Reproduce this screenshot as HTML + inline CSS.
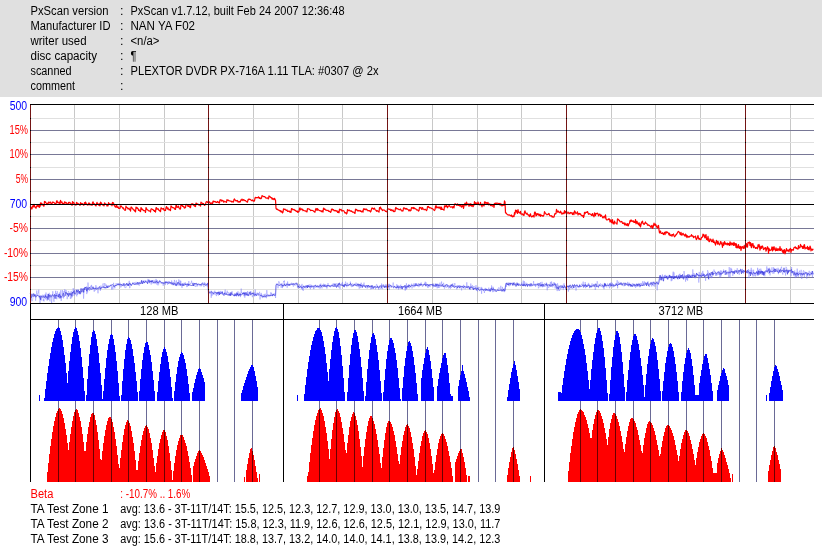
<!DOCTYPE html><html><head><meta charset="utf-8"><title>PxScan</title>
<style>html,body{margin:0;padding:0;background:#fff}svg{display:block}text{font-family:"Liberation Sans","IPAGothic",sans-serif;font-size:12.5px}</style></head><body>
<svg width="822" height="551" viewBox="0 0 822 551">
<rect x="0" y="0" width="822" height="551" fill="#fff"/>
<rect x="0" y="0" width="822" height="97" fill="#e0e0e0"/>
<g shape-rendering="crispEdges">
<rect x="74" y="104" width="1" height="200" fill="#c8c8c8"/>
<rect x="119" y="104" width="1" height="200" fill="#c8c8c8"/>
<rect x="164" y="104" width="1" height="200" fill="#c8c8c8"/>
<rect x="253" y="104" width="1" height="200" fill="#c8c8c8"/>
<rect x="298" y="104" width="1" height="200" fill="#c8c8c8"/>
<rect x="342" y="104" width="1" height="200" fill="#c8c8c8"/>
<rect x="432" y="104" width="1" height="200" fill="#c8c8c8"/>
<rect x="477" y="104" width="1" height="200" fill="#c8c8c8"/>
<rect x="521" y="104" width="1" height="200" fill="#c8c8c8"/>
<rect x="611" y="104" width="1" height="200" fill="#c8c8c8"/>
<rect x="655" y="104" width="1" height="200" fill="#c8c8c8"/>
<rect x="700" y="104" width="1" height="200" fill="#c8c8c8"/>
<rect x="790" y="104" width="1" height="200" fill="#c8c8c8"/>
<rect x="30" y="118" width="784" height="1" fill="#e0e0e0"/>
<rect x="30" y="142" width="784" height="1" fill="#e0e0e0"/>
<rect x="30" y="167" width="784" height="1" fill="#e0e0e0"/>
<rect x="30" y="191" width="784" height="1" fill="#e0e0e0"/>
<rect x="30" y="216" width="784" height="1" fill="#e0e0e0"/>
<rect x="30" y="240" width="784" height="1" fill="#e0e0e0"/>
<rect x="30" y="265" width="784" height="1" fill="#e0e0e0"/>
<rect x="30" y="289" width="784" height="1" fill="#e0e0e0"/>
<rect x="30" y="130" width="784" height="1" fill="#787896"/>
<rect x="30" y="154" width="784" height="1" fill="#787896"/>
<rect x="30" y="179" width="784" height="1" fill="#787896"/>
<rect x="30" y="228" width="784" height="1" fill="#787896"/>
<rect x="30" y="253" width="784" height="1" fill="#787896"/>
<rect x="30" y="277" width="784" height="1" fill="#787896"/>
<rect x="30" y="319" width="784" height="1" fill="#000"/>
<rect x="30" y="303" width="1" height="179" fill="#000"/>
<rect x="283" y="303" width="1" height="179" fill="#000"/>
<rect x="544" y="303" width="1" height="179" fill="#000"/>
</g>
<polyline points="30.0,207.4 30.5,207.0 31.0,207.1 31.5,208.9 32.0,209.0 32.5,206.0 33.0,205.8 33.5,206.9 34.0,204.3 34.5,206.1 35.0,207.3 35.5,207.3 36.0,208.3 36.5,206.2 37.0,206.7 37.5,204.9 38.0,205.8 38.5,206.8 39.0,205.4 39.5,207.3 40.0,206.5 40.5,202.9 41.0,205.1 41.5,203.0 42.0,203.7 42.5,204.8 43.0,204.7 43.5,206.0 44.0,206.1 44.5,201.4 45.0,202.5 45.5,201.8 46.0,202.9 46.5,203.4 47.0,204.6 47.5,203.3 48.0,203.9 48.5,202.1 49.0,203.0 49.5,202.9 50.0,202.0 50.5,202.0 51.0,203.7 51.5,203.5 52.0,203.6 52.5,202.0 53.0,202.4 53.5,202.2 54.0,202.6 54.5,203.0 55.0,203.9 55.5,203.7 56.0,204.0 56.5,201.3 57.0,200.7 57.5,202.5 58.0,202.8 58.5,202.9 59.0,202.1 59.5,203.2 60.0,204.3 60.5,200.4 61.0,201.6 61.5,202.6 62.0,201.9 62.5,203.8 63.0,203.6 63.5,203.7 64.0,204.3 64.5,201.9 65.0,202.0 65.5,203.0 66.0,202.5 66.5,203.0 67.0,204.1 67.5,204.0 68.0,204.0 68.5,202.3 69.0,203.0 69.5,202.4 70.0,202.4 70.5,203.4 71.0,203.8 71.5,204.1 72.0,205.4 72.5,201.6 73.0,203.1 73.5,202.3 74.0,202.9 74.5,204.1 75.0,204.7 75.5,205.0 76.0,205.1 76.5,202.4 77.0,202.8 77.5,203.4 78.0,203.4 78.5,204.0 79.0,204.5 79.5,204.6 80.0,205.4 80.5,202.7 81.0,203.8 81.5,203.4 82.0,203.4 82.5,203.8 83.0,204.4 83.5,205.2 84.0,205.0 84.5,202.7 85.0,203.8 85.5,202.0 86.0,203.1 86.5,204.2 87.0,204.7 87.5,205.0 88.0,205.1 88.5,203.0 89.0,203.2 89.5,203.2 90.0,205.0 90.5,204.4 91.0,204.3 91.5,204.9 92.0,205.3 92.5,202.7 93.0,201.8 93.5,203.3 94.0,204.4 94.5,203.8 95.0,204.7 95.5,205.6 96.0,205.9 96.5,203.6 97.0,202.4 97.5,203.4 98.0,203.8 98.5,204.7 99.0,205.3 99.5,203.8 100.0,206.0 100.5,202.1 101.0,203.6 101.5,202.9 102.0,204.1 102.5,204.9 103.0,204.7 103.5,205.2 104.0,205.9 104.5,202.9 105.0,203.2 105.5,204.4 106.0,204.5 106.5,204.2 107.0,206.1 107.5,204.5 108.0,205.9 108.5,202.7 109.0,203.3 109.5,204.0 110.0,204.1 110.5,204.7 111.0,204.0 111.5,204.3 112.0,205.8 112.5,202.4 113.0,202.7 113.5,202.9 114.0,205.1 114.5,205.6 115.0,206.7 115.5,206.3 116.0,207.5 116.5,204.7 117.0,206.4 117.5,207.5 118.0,206.7 118.5,208.3 119.0,208.5 119.5,208.3 120.0,208.3 120.5,206.1 121.0,205.9 121.5,206.2 122.0,207.1 122.5,207.6 123.0,208.5 123.5,207.9 124.0,209.3 124.5,209.9 125.0,210.4 125.5,210.1 126.0,206.1 126.5,207.4 127.0,207.5 127.5,207.9 128.0,209.0 128.5,208.7 129.0,208.2 129.5,209.6 130.0,209.4 130.5,211.1 131.0,207.1 131.5,207.1 132.0,207.9 132.5,208.7 133.0,208.9 133.5,209.9 134.0,209.7 134.5,210.7 135.0,211.4 135.5,211.9 136.0,207.1 136.5,208.3 137.0,207.5 137.5,208.4 138.0,208.4 138.5,210.3 139.0,209.7 139.5,210.7 140.0,211.0 140.5,211.6 141.0,207.6 141.5,208.4 142.0,209.6 142.5,209.2 143.0,209.9 143.5,210.6 144.0,210.5 144.5,210.5 145.0,211.2 145.5,212.4 146.0,207.5 146.5,208.4 147.0,209.6 147.5,209.9 148.0,210.0 148.5,210.8 149.0,211.0 149.5,210.9 150.0,211.1 150.5,212.0 151.0,209.0 151.5,208.8 152.0,209.1 152.5,209.5 153.0,209.5 153.5,210.5 154.0,210.4 154.5,211.4 155.0,210.5 155.5,212.1 156.0,207.8 156.5,207.6 157.0,209.2 157.5,209.1 158.0,208.6 158.5,209.5 159.0,210.4 159.5,210.4 160.0,211.3 160.5,211.7 161.0,207.8 161.5,208.0 162.0,208.8 162.5,208.9 163.0,209.1 163.5,208.4 164.0,210.1 164.5,210.6 165.0,210.2 165.5,210.5 166.0,207.8 166.5,206.5 167.0,207.8 167.5,209.1 168.0,207.9 168.5,209.0 169.0,209.9 169.5,209.3 170.0,210.0 170.5,210.5 171.0,205.8 171.5,206.5 172.0,207.1 172.5,207.7 173.0,207.6 173.5,207.9 174.0,207.9 174.5,208.5 175.0,209.4 175.5,209.4 176.0,205.1 176.5,205.5 177.0,207.4 177.5,207.1 178.0,207.2 178.5,206.1 179.0,207.9 179.5,208.2 180.0,209.1 180.5,208.9 181.0,204.8 181.5,205.4 182.0,204.7 182.5,206.3 183.0,206.4 183.5,206.3 184.0,207.5 184.5,208.1 185.0,207.0 185.5,207.7 186.0,204.3 186.5,204.6 187.0,204.7 187.5,204.7 188.0,206.5 188.5,206.4 189.0,205.7 189.5,206.0 190.0,207.7 190.5,207.7 191.0,204.3 191.5,204.2 192.0,203.7 192.5,204.6 193.0,203.9 193.5,204.9 194.0,205.5 194.5,206.1 195.0,205.9 195.5,206.6 196.0,203.0 196.5,203.3 197.0,203.8 197.5,204.0 198.0,204.1 198.5,205.0 199.0,205.0 199.5,205.0 200.0,205.4 200.5,206.1 201.0,202.2 201.5,202.7 202.0,203.0 202.5,203.5 203.0,203.7 203.5,203.5 204.0,204.7 204.5,205.3 205.0,204.8 205.5,204.7 206.0,202.2 206.5,201.7 207.0,201.4 207.5,202.5 208.0,202.2 208.5,203.1 209.0,202.4 209.5,201.8 210.0,202.7 210.5,204.0 211.0,203.2 211.5,202.9 212.0,203.3 212.5,204.0 213.0,201.1 213.5,201.1 214.0,201.8 214.5,201.6 215.0,201.4 215.5,201.8 216.0,202.4 216.5,202.2 217.0,202.3 217.5,201.5 218.0,202.0 218.5,202.6 219.0,202.2 219.5,203.0 220.0,199.9 220.5,200.1 221.0,199.7 221.5,201.1 222.0,200.8 222.5,200.3 223.0,200.7 223.5,202.1 224.0,201.0 224.5,201.8 225.0,202.0 225.5,201.8 226.0,201.5 226.5,202.4 227.0,199.7 227.5,200.2 228.0,200.3 228.5,200.2 229.0,200.8 229.5,200.9 230.0,201.0 230.5,201.1 231.0,201.2 231.5,201.9 232.0,201.3 232.5,201.7 233.0,202.2 233.5,201.8 234.0,199.5 234.5,199.0 235.0,199.8 235.5,200.6 236.0,200.8 236.5,200.7 237.0,200.8 237.5,200.5 238.0,202.1 238.5,201.7 239.0,202.2 239.5,201.5 240.0,202.0 240.5,201.4 241.0,199.8 241.5,200.1 242.0,199.0 242.5,200.0 243.0,200.5 243.5,199.6 244.0,199.8 244.5,200.3 245.0,200.7 245.5,200.5 246.0,201.3 246.5,201.6 247.0,202.0 247.5,202.2 248.0,199.7 248.5,199.8 249.0,198.9 249.5,199.4 250.0,199.3 250.5,199.5 251.0,200.2 251.5,200.4 252.0,200.8 252.5,200.0 253.0,200.4 253.5,201.1 254.0,201.2 254.5,201.0 255.0,197.9 255.5,197.3 256.0,197.8 256.5,197.7 257.0,197.7 257.5,197.5 258.0,197.9 258.5,196.8 259.0,197.7 259.5,198.3 260.0,197.7 260.5,198.6 261.0,198.7 261.5,198.1 262.0,195.7 262.5,195.8 263.0,196.3 263.5,196.6 264.0,196.6 264.5,196.5 265.0,197.1 265.5,197.4 266.0,198.1 266.5,198.1 267.0,198.0 267.5,197.9 268.0,198.7 268.5,198.8 269.0,195.9 269.5,196.6 270.0,196.7 270.5,197.3 271.0,197.7 271.5,197.6 272.0,199.1 272.5,198.2 273.0,199.1 273.5,198.9 274.0,199.7 274.5,198.3 275.0,199.3 275.5,199.9 276.0,208.2 276.5,209.3 277.0,208.8 277.5,209.6 278.0,209.7 278.5,210.2 279.0,210.3 279.5,210.4 280.0,211.1 280.5,210.7 281.0,211.9 281.5,211.2 282.0,211.9 282.5,213.0 283.0,212.2 283.5,208.9 284.0,209.6 284.5,209.3 285.0,209.1 285.5,209.8 286.0,210.2 286.5,210.5 287.0,210.0 287.5,211.4 288.0,211.5 288.5,211.0 289.0,211.3 289.5,211.2 290.0,212.3 290.5,211.5 291.0,212.4 291.5,208.5 292.0,208.6 292.5,209.4 293.0,209.9 293.5,209.5 294.0,209.4 294.5,210.3 295.0,210.1 295.5,210.5 296.0,211.3 296.5,211.3 297.0,210.8 297.5,212.3 298.0,211.5 298.5,212.1 299.0,211.6 299.5,208.5 300.0,208.0 300.5,209.8 301.0,209.8 301.5,208.9 302.0,209.0 302.5,209.2 303.0,210.7 303.5,210.1 304.0,210.5 304.5,210.7 305.0,211.0 305.5,210.8 306.0,211.5 306.5,211.1 307.0,211.9 307.5,208.7 308.0,209.0 308.5,208.9 309.0,208.8 309.5,209.5 310.0,209.5 310.5,210.6 311.0,210.5 311.5,210.3 312.0,210.4 312.5,210.5 313.0,210.6 313.5,211.1 314.0,211.6 314.5,211.9 315.0,212.2 315.5,209.5 316.0,208.5 316.5,209.0 317.0,210.5 317.5,208.6 318.0,209.5 318.5,210.0 319.0,210.2 319.5,210.6 320.0,210.5 320.5,211.0 321.0,211.1 321.5,211.7 322.0,210.7 322.5,211.4 323.0,212.0 323.5,208.2 324.0,208.4 324.5,209.4 325.0,209.1 325.5,209.9 326.0,210.2 326.5,210.2 327.0,210.6 327.5,210.5 328.0,210.2 328.5,211.0 329.0,211.5 329.5,211.3 330.0,211.7 330.5,212.3 331.0,211.8 331.5,209.1 332.0,209.9 332.5,209.1 333.0,209.6 333.5,209.7 334.0,210.7 334.5,210.4 335.0,210.9 335.5,210.4 336.0,210.9 336.5,211.2 337.0,210.6 337.5,212.3 338.0,212.4 338.5,211.4 339.0,212.8 339.5,209.1 340.0,209.6 340.5,209.9 341.0,209.3 341.5,210.2 342.0,211.2 342.5,210.6 343.0,210.6 343.5,210.8 344.0,211.1 344.5,212.1 345.0,213.0 345.5,212.7 346.0,212.8 346.5,214.0 347.0,213.1 347.5,209.6 348.0,210.4 348.5,210.6 349.0,210.1 349.5,210.2 350.0,211.0 350.5,211.2 351.0,210.7 351.5,211.4 352.0,211.4 352.5,212.1 353.0,212.0 353.5,212.2 354.0,212.3 354.5,213.1 355.0,213.4 355.5,209.2 356.0,210.0 356.5,209.4 357.0,210.0 357.5,210.5 358.0,211.0 358.5,210.4 359.0,210.7 359.5,211.0 360.0,210.4 360.5,211.3 361.0,211.2 361.5,211.8 362.0,211.3 362.5,211.1 363.0,212.2 363.5,208.9 364.0,208.7 364.5,209.5 365.0,209.2 365.5,209.2 366.0,209.9 366.5,209.1 367.0,209.7 367.5,210.2 368.0,210.8 368.5,210.5 369.0,210.9 369.5,210.6 370.0,211.2 370.5,212.0 371.0,211.1 371.5,209.1 372.0,207.9 372.5,208.4 373.0,208.6 373.5,209.2 374.0,208.3 374.5,208.2 375.0,209.6 375.5,210.0 376.0,210.2 376.5,211.3 377.0,210.5 377.5,210.8 378.0,211.3 378.5,211.3 379.0,212.2 379.5,207.5 380.0,208.2 380.5,207.0 381.0,209.2 381.5,208.9 382.0,209.8 382.5,210.6 383.0,209.9 383.5,210.0 384.0,210.1 384.5,210.2 385.0,210.6 385.5,211.4 386.0,211.4 386.5,211.7 387.0,211.8 387.5,209.0 388.0,209.0 388.5,208.9 389.0,209.4 389.5,209.2 390.0,209.0 390.5,210.4 391.0,210.1 391.5,209.7 392.0,210.8 392.5,210.6 393.0,210.0 393.5,211.6 394.0,211.2 394.5,211.6 395.0,211.5 395.5,208.0 396.0,207.5 396.5,208.8 397.0,208.6 397.5,208.7 398.0,209.1 398.5,209.2 399.0,209.7 399.5,209.4 400.0,209.7 400.5,209.0 401.0,209.9 401.5,210.6 402.0,211.1 402.5,210.6 403.0,210.9 403.5,208.2 404.0,207.6 404.5,208.3 405.0,208.9 405.5,208.4 406.0,209.2 406.5,208.5 407.0,209.1 407.5,209.2 408.0,209.5 408.5,210.2 409.0,211.0 409.5,209.8 410.0,210.1 410.5,210.8 411.0,210.3 411.5,207.6 412.0,207.9 412.5,207.7 413.0,208.3 413.5,207.5 414.0,208.8 414.5,208.0 415.0,208.6 415.5,208.8 416.0,209.1 416.5,209.9 417.0,209.8 417.5,209.8 418.0,210.4 418.5,211.1 419.0,210.6 419.5,207.4 420.0,208.0 420.5,207.8 421.0,207.3 421.5,209.2 422.0,209.3 422.5,207.6 423.0,208.7 423.5,209.1 424.0,209.6 424.5,209.6 425.0,209.4 425.5,209.3 426.0,210.0 426.5,210.6 427.0,209.8 427.5,206.5 428.0,207.1 428.5,206.5 429.0,207.4 429.5,207.5 430.0,208.1 430.5,207.8 431.0,207.9 431.5,208.4 432.0,208.7 432.5,208.6 433.0,209.1 433.5,209.7 434.0,210.1 434.5,210.5 435.0,209.6 435.5,206.3 436.0,205.6 436.5,207.8 437.0,206.8 437.5,207.3 438.0,207.8 438.5,207.1 439.0,208.1 439.5,208.1 440.0,206.8 440.5,208.6 441.0,209.5 441.5,207.2 442.0,209.5 442.5,209.1 443.0,209.5 443.5,209.5 444.0,210.3 444.5,205.9 445.0,206.8 445.5,205.8 446.0,206.7 446.5,205.5 447.0,206.1 447.5,207.7 448.0,206.7 448.5,206.2 449.0,205.5 449.5,205.8 450.0,206.6 450.5,207.2 451.0,206.9 451.5,207.0 452.0,206.7 452.5,207.9 453.0,206.7 453.5,206.7 454.0,207.9 454.5,204.2 455.0,204.1 455.5,203.9 456.0,204.3 456.5,205.2 457.0,205.1 457.5,203.9 458.0,205.4 458.5,205.3 459.0,204.5 459.5,206.0 460.0,205.3 460.5,205.4 461.0,206.5 461.5,207.0 462.0,205.5 462.5,206.5 463.0,205.6 463.5,208.3 464.0,206.2 464.5,204.5 465.0,203.1 465.5,204.4 466.0,205.7 466.5,202.0 467.0,203.8 467.5,204.7 468.0,204.3 468.5,204.0 469.0,206.4 469.5,204.9 470.0,203.6 470.5,205.7 471.0,203.8 471.5,206.2 472.0,205.0 472.5,205.7 473.0,206.7 473.5,205.9 474.0,204.8 474.5,201.5 475.0,203.9 475.5,203.7 476.0,202.6 476.5,204.1 477.0,203.9 477.5,204.2 478.0,202.0 478.5,203.6 479.0,204.7 479.5,204.7 480.0,205.0 480.5,202.4 481.0,204.7 481.5,205.0 482.0,206.8 482.5,204.1 483.0,204.8 483.5,205.2 484.0,206.0 484.5,201.9 485.0,203.4 485.5,202.1 486.0,203.1 486.5,202.7 487.0,203.5 487.5,203.0 488.0,202.5 488.5,204.8 489.0,204.4 489.5,203.9 490.0,204.8 490.5,205.6 491.0,204.2 491.5,205.1 492.0,205.9 492.5,206.1 493.0,205.6 493.5,204.4 494.0,207.3 494.5,203.5 495.0,203.3 495.5,203.2 496.0,203.8 496.5,203.3 497.0,202.9 497.5,203.3 498.0,203.5 498.5,203.6 499.0,203.3 499.5,204.8 500.0,203.4 500.5,205.1 501.0,203.8 501.5,205.0 502.0,206.0 502.5,205.1 503.0,204.5 503.5,205.2 504.0,205.4 504.5,200.9 505.0,201.9 505.5,212.9 506.0,212.7 506.5,213.5 507.0,214.3 507.5,214.6 508.0,215.0 508.5,215.1 509.0,214.7 509.5,215.2 510.0,215.3 510.5,215.6 511.0,216.0 511.5,215.0 512.0,216.5 512.5,216.9 513.0,215.9 513.5,216.4 514.0,216.6 514.5,212.7 515.0,214.2 515.5,210.2 516.0,211.9 516.5,210.4 517.0,212.4 517.5,213.5 518.0,209.7 518.5,212.1 519.0,212.7 519.5,212.3 520.0,213.3 520.5,211.4 521.0,214.1 521.5,214.1 522.0,214.1 522.5,213.9 523.0,215.1 523.5,214.5 524.0,215.4 524.5,211.9 525.0,210.8 525.5,212.9 526.0,213.4 526.5,214.1 527.0,213.1 527.5,214.1 528.0,214.9 528.5,214.8 529.0,215.9 529.5,216.6 530.0,214.5 530.5,213.8 531.0,216.2 531.5,216.9 532.0,216.5 532.5,216.6 533.0,215.6 533.5,215.7 534.0,217.1 534.5,212.6 535.0,212.0 535.5,212.8 536.0,215.8 536.5,215.5 537.0,213.5 537.5,213.7 538.0,214.6 538.5,213.9 539.0,215.7 539.5,214.8 540.0,214.2 540.5,216.3 541.0,214.9 541.5,215.7 542.0,215.7 542.5,215.7 543.0,216.4 543.5,215.7 544.0,215.0 544.5,211.7 545.0,212.6 545.5,213.2 546.0,214.0 546.5,214.2 547.0,214.8 547.5,214.6 548.0,214.1 548.5,214.3 549.0,213.4 549.5,215.1 550.0,215.8 550.5,216.0 551.0,215.7 551.5,215.8 552.0,216.9 552.5,216.3 553.0,217.1 553.5,217.1 554.0,217.0 554.5,214.9 555.0,213.5 555.5,213.9 556.0,213.7 556.5,209.3 557.0,211.5 557.5,212.0 558.0,210.9 558.5,211.6 559.0,212.3 559.5,212.3 560.0,212.9 560.5,211.2 561.0,212.0 561.5,213.2 562.0,214.3 562.5,213.5 563.0,213.0 563.5,213.7 564.0,213.7 564.5,210.6 565.0,212.8 565.5,211.4 566.0,212.2 566.5,214.2 567.0,213.5 567.5,212.8 568.0,212.0 568.5,212.8 569.0,213.8 569.5,213.0 570.0,213.5 570.5,212.5 571.0,213.0 571.5,212.7 572.0,213.5 572.5,214.5 573.0,212.6 573.5,213.9 574.0,214.5 574.5,210.9 575.0,211.4 575.5,212.5 576.0,213.8 576.5,213.0 577.0,213.0 577.5,211.8 578.0,214.9 578.5,213.7 579.0,213.8 579.5,213.3 580.0,214.4 580.5,213.8 581.0,215.0 581.5,215.6 582.0,215.6 582.5,216.1 583.0,215.4 583.5,217.5 584.0,216.1 584.5,212.3 585.0,213.7 585.5,212.8 586.0,212.2 586.5,212.3 587.0,212.5 587.5,211.6 588.0,212.7 588.5,214.3 589.0,214.0 589.5,213.6 590.0,214.1 590.5,214.2 591.0,214.5 591.5,215.4 592.0,215.0 592.5,213.5 593.0,215.7 593.5,215.3 594.0,216.8 594.5,212.9 595.0,213.7 595.5,215.7 596.0,213.4 596.5,213.6 597.0,213.6 597.5,213.1 598.0,213.8 598.5,215.8 599.0,215.0 599.5,214.2 600.0,214.2 600.5,216.4 601.0,215.0 601.5,215.5 602.0,216.2 602.5,217.3 603.0,218.0 603.5,217.1 604.0,216.3 604.5,216.4 605.0,218.0 605.5,214.8 606.0,218.9 606.5,219.8 607.0,219.8 607.5,219.8 608.0,219.4 608.5,218.8 609.0,219.7 609.5,218.9 610.0,221.9 610.5,221.3 611.0,219.8 611.5,222.6 612.0,222.2 612.5,219.6 613.0,223.6 613.5,222.7 614.0,224.1 614.5,221.0 615.0,223.0 615.5,223.0 616.0,223.0 616.5,223.2 617.0,224.2 617.5,218.8 618.0,219.3 618.5,219.3 619.0,220.4 619.5,220.6 620.0,221.7 620.5,221.9 621.0,221.9 621.5,221.4 622.0,221.8 622.5,223.4 623.0,223.5 623.5,223.0 624.0,222.8 624.5,224.9 625.0,223.0 625.5,224.5 626.0,225.2 626.5,224.0 627.0,225.3 627.5,223.6 628.0,226.0 628.5,225.4 629.0,223.7 629.5,223.1 630.0,220.5 630.5,221.6 631.0,219.9 631.5,220.6 632.0,221.3 632.5,220.8 633.0,221.6 633.5,221.0 634.0,222.5 634.5,222.0 635.0,222.4 635.5,219.6 636.0,223.8 636.5,222.8 637.0,221.2 637.5,223.3 638.0,223.9 638.5,224.7 639.0,222.7 639.5,225.6 640.0,224.1 640.5,226.8 641.0,224.5 641.5,222.5 642.0,221.7 642.5,221.1 643.0,223.6 643.5,223.6 644.0,224.5 644.5,224.0 645.0,222.9 645.5,222.0 646.0,223.3 646.5,223.5 647.0,223.6 647.5,225.2 648.0,225.2 648.5,224.8 649.0,225.5 649.5,225.4 650.0,226.0 650.5,226.8 651.0,227.3 651.5,225.9 652.0,225.3 652.5,228.5 653.0,227.4 653.5,225.6 654.0,223.1 654.5,224.7 655.0,225.3 655.5,224.0 656.0,225.2 656.5,226.7 657.0,227.3 657.5,228.0 658.0,225.8 658.5,225.4 659.0,229.8 659.5,232.8 660.0,232.3 660.5,231.0 661.0,233.3 661.5,233.5 662.0,233.5 662.5,232.7 663.0,233.8 663.5,234.5 664.0,233.4 664.5,232.3 665.0,234.7 665.5,232.1 666.0,231.9 666.5,233.0 667.0,231.7 667.5,232.5 668.0,232.5 668.5,233.6 669.0,234.8 669.5,233.2 670.0,235.7 670.5,235.5 671.0,234.9 671.5,234.9 672.0,236.3 672.5,234.5 673.0,234.8 673.5,234.0 674.0,235.7 674.5,236.8 675.0,236.1 675.5,235.8 676.0,234.5 676.5,234.6 677.0,233.3 677.5,233.0 678.0,231.8 678.5,231.4 679.0,232.0 679.5,232.2 680.0,234.1 680.5,234.6 681.0,232.4 681.5,234.9 682.0,235.2 682.5,233.9 683.0,233.3 683.5,234.3 684.0,234.7 684.5,235.9 685.0,235.4 685.5,234.0 686.0,236.6 686.5,235.0 687.0,237.7 687.5,235.9 688.0,236.7 688.5,236.7 689.0,237.3 689.5,236.4 690.0,236.2 690.5,236.2 691.0,236.2 691.5,234.6 692.0,235.9 692.5,236.1 693.0,235.9 693.5,237.7 694.0,236.7 694.5,237.0 695.0,236.9 695.5,236.1 696.0,238.9 696.5,239.6 697.0,238.4 697.5,237.2 698.0,235.5 698.5,238.3 699.0,239.3 699.5,238.4 700.0,239.1 700.5,239.8 701.0,239.4 701.5,237.4 702.0,237.3 702.5,237.1 703.0,234.1 703.5,235.9 704.0,234.7 704.5,236.7 705.0,237.9 705.5,235.8 706.0,234.6 706.5,239.5 707.0,238.4 707.5,240.1 708.0,236.4 708.5,239.9 709.0,241.6 709.5,241.7 710.0,238.8 710.5,239.8 711.0,239.5 711.5,241.5 712.0,241.9 712.5,240.9 713.0,239.2 713.5,242.5 714.0,241.1 714.5,243.0 715.0,242.8 715.5,245.1 716.0,242.3 716.5,240.4 717.0,241.9 717.5,244.2 718.0,241.3 718.5,243.0 719.0,244.4 719.5,244.9 720.0,244.2 720.5,241.6 721.0,241.8 721.5,243.9 722.0,244.2 722.5,247.3 723.0,242.5 723.5,245.4 724.0,244.9 724.5,241.6 725.0,242.8 725.5,244.2 726.0,243.3 726.5,243.9 727.0,244.8 727.5,243.1 728.0,244.9 728.5,243.5 729.0,243.8 729.5,245.5 730.0,241.8 730.5,243.2 731.0,245.2 731.5,243.2 732.0,243.1 732.5,244.6 733.0,243.2 733.5,245.5 734.0,242.3 734.5,245.2 735.0,243.8 735.5,243.6 736.0,247.4 736.5,243.9 737.0,247.8 737.5,246.4 738.0,247.7 738.5,244.5 739.0,247.8 739.5,248.3 740.0,246.3 740.5,246.5 741.0,250.3 741.5,247.3 742.0,246.7 742.5,246.6 743.0,248.3 743.5,248.3 744.0,245.9 744.5,248.2 745.0,245.1 745.5,246.0 746.0,247.2 746.5,243.6 747.0,246.2 747.5,247.1 748.0,242.4 748.5,242.6 749.0,242.9 749.5,242.0 750.0,245.5 750.5,242.5 751.0,246.1 751.5,247.7 752.0,243.6 752.5,245.7 753.0,243.7 753.5,247.7 754.0,245.8 754.5,246.8 755.0,247.5 755.5,248.4 756.0,247.4 756.5,248.1 757.0,247.6 757.5,248.8 758.0,244.8 758.5,246.8 759.0,244.3 759.5,246.5 760.0,250.2 760.5,247.8 761.0,246.1 761.5,248.4 762.0,246.8 762.5,246.0 763.0,247.4 763.5,249.6 764.0,249.2 764.5,248.7 765.0,247.7 765.5,247.6 766.0,251.1 766.5,249.7 767.0,248.2 767.5,246.7 768.0,247.8 768.5,253.3 769.0,248.4 769.5,250.0 770.0,250.6 770.5,250.2 771.0,250.1 771.5,248.7 772.0,246.9 772.5,250.9 773.0,247.6 773.5,250.0 774.0,246.6 774.5,248.7 775.0,249.6 775.5,250.8 776.0,247.9 776.5,250.4 777.0,250.3 777.5,248.8 778.0,250.6 778.5,248.8 779.0,249.1 779.5,250.3 780.0,246.6 780.5,250.4 781.0,249.3 781.5,248.8 782.0,250.3 782.5,252.1 783.0,250.6 783.5,253.1 784.0,249.8 784.5,249.7 785.0,253.8 785.5,252.3 786.0,250.8 786.5,248.5 787.0,250.9 787.5,250.2 788.0,250.9 788.5,250.1 789.0,251.9 789.5,249.4 790.0,249.1 790.5,248.5 791.0,252.3 791.5,249.8 792.0,249.4 792.5,249.7 793.0,250.4 793.5,249.4 794.0,247.7 794.5,247.3 795.0,247.5 795.5,247.0 796.0,248.5 796.5,247.8 797.0,248.7 797.5,249.0 798.0,249.1 798.5,245.7 799.0,248.1 799.5,247.8 800.0,247.6 800.5,244.4 801.0,245.7 801.5,246.3 802.0,246.4 802.5,248.3 803.0,246.3 803.5,248.4 804.0,245.0 804.5,244.6 805.0,248.9 805.5,247.9 806.0,248.2 806.5,247.8 807.0,248.5 807.5,246.3 808.0,249.5 808.5,247.6 809.0,249.9 809.5,248.8 810.0,246.1 810.5,247.3 811.0,250.8 811.5,249.2 812.0,249.0 812.5,250.1 813.0,249.3 813.5,249.3" fill="none" stroke="#ff0000" stroke-width="1.2" stroke-opacity="1" stroke-linejoin="round"/>
<polyline points="30.0,296.0 30.4,296.1 30.8,300.1 31.2,295.9 31.6,301.2 32.0,301.0 32.4,300.8 32.8,298.9 33.2,296.3 33.6,296.3 34.0,295.5 34.4,293.8 34.8,295.8 35.2,294.1 35.6,300.7 36.0,297.6 36.4,294.8 36.8,290.5 37.2,295.9 37.6,294.9 38.0,293.0 38.4,292.9 38.8,289.7 39.2,297.8 39.6,296.0 40.0,303.7 40.4,296.2 40.8,295.9 41.2,300.5 41.6,296.7 42.0,296.8 42.4,295.3 42.8,294.7 43.2,300.8 43.6,299.3 44.0,301.4 44.4,295.5 44.8,296.6 45.2,294.0 45.6,299.3 46.0,292.5 46.4,298.2 46.8,299.8 47.2,300.7 47.6,293.9 48.0,299.8 48.4,294.6 48.8,294.5 49.2,292.8 49.6,300.0 50.0,301.4 50.4,294.9 50.8,294.4 51.2,295.5 51.6,303.8 52.0,299.4 52.4,294.9 52.8,291.2 53.2,294.5 53.6,299.8 54.0,301.8 54.4,295.6 54.8,294.3 55.2,294.8 55.6,290.8 56.0,298.9 56.4,293.1 56.8,299.3 57.2,291.2 57.6,292.5 58.0,297.0 58.4,293.9 58.8,298.3 59.2,296.0 59.6,292.5 60.0,297.6 60.4,298.2 60.8,290.2 61.2,300.9 61.6,297.0 62.0,297.7 62.4,290.1 62.8,293.3 63.2,294.3 63.6,298.4 64.0,291.0 64.4,292.5 64.8,289.2 65.2,294.3 65.6,295.9 66.0,290.0 66.4,293.1 66.8,296.2 67.2,299.2 67.6,296.5 68.0,293.6 68.4,291.0 68.8,291.7 69.2,292.4 69.6,294.6 70.0,294.0 70.4,298.9 70.8,294.9 71.2,290.9 71.6,298.3 72.0,296.6 72.4,294.0 72.8,291.6 73.2,288.1 73.6,290.4 74.0,295.9 74.4,290.8 74.8,289.2 75.2,293.4 75.6,293.4 76.0,294.4 76.4,294.4 76.8,296.4 77.2,289.8 77.6,294.9 78.0,289.1 78.4,293.8 78.8,292.2 79.2,292.2 79.6,294.2 80.0,291.2 80.4,294.3 80.8,293.5 81.2,291.3 81.6,289.1 82.0,288.4 82.4,288.9 82.8,289.7 83.2,290.1 83.6,298.7 84.0,291.8 84.4,292.0 84.8,287.2 85.2,287.5 85.6,288.6 86.0,290.0 86.4,286.4 86.8,294.1 87.2,287.7 87.6,292.4 88.0,282.5 88.4,289.2 88.8,290.0 89.2,289.7 89.6,290.8 90.0,289.5 90.4,289.3 90.8,285.7 91.2,287.7 91.6,284.9 92.0,289.9 92.4,289.3 92.8,288.4 93.2,287.3 93.6,287.6 94.0,291.7 94.4,291.5 94.8,288.4 95.2,290.6 95.6,285.7 96.0,285.1 96.4,287.5 96.8,286.8 97.2,287.3 97.6,288.5 98.0,293.3 98.4,286.9 98.8,288.1 99.2,288.4 99.6,287.8 100.0,289.4 100.4,290.8 100.8,285.6 101.2,287.9 101.6,287.1 102.0,288.1 102.4,284.8 102.8,284.3 103.2,283.3 103.6,288.1 104.0,287.4 104.4,287.2 104.8,283.0 105.2,286.3 105.6,285.5 106.0,284.4 106.4,285.1 106.8,287.8 107.2,287.5 107.6,286.4 108.0,287.3 108.4,285.3 108.8,286.4 109.2,286.3 109.6,287.1 110.0,285.9 110.4,285.7 110.8,285.7 111.2,284.7 111.6,289.6 112.0,286.6 112.4,286.4 112.8,289.5 113.2,287.9 113.6,282.8 114.0,286.5 114.4,286.7 114.8,288.4 115.2,287.4 115.6,286.4 116.0,283.1 116.4,283.6 116.8,285.5 117.2,285.8 117.6,283.2 118.0,284.3 118.4,284.2 118.8,285.0 119.2,285.4 119.6,284.3 120.0,282.7 120.4,286.9 120.8,287.5 121.2,284.5 121.6,286.4 122.0,285.4 122.4,285.8 122.8,285.4 123.2,283.3 123.6,285.5 124.0,286.3 124.4,283.0 124.8,287.8 125.2,288.0 125.6,287.5 126.0,287.8 126.4,285.6 126.8,283.8 127.2,283.3 127.6,282.9 128.0,284.5 128.4,284.2 128.8,285.4 129.2,280.8 129.6,288.1 130.0,288.0 130.4,284.1 130.8,285.2 131.2,284.9 131.6,284.5 132.0,283.7 132.4,283.8 132.8,282.6 133.2,284.2 133.6,283.9 134.0,284.4 134.4,282.3 134.8,283.8 135.2,283.8 135.6,284.6 136.0,281.8 136.4,284.2 136.8,285.1 137.2,284.4 137.6,282.7 138.0,282.4 138.4,282.8 138.8,284.4 139.2,285.7 139.6,282.8 140.0,281.9 140.4,283.6 140.8,283.2 141.2,281.3 141.6,281.5 142.0,282.5 142.4,283.8 142.8,280.5 143.2,280.8 143.6,283.3 144.0,280.3 144.4,282.5 144.8,282.9 145.2,282.0 145.6,280.4 146.0,282.0 146.4,281.5 146.8,282.5 147.2,280.5 147.6,283.7 148.0,278.9 148.4,281.4 148.8,281.7 149.2,283.3 149.6,280.5 150.0,282.4 150.4,280.6 150.8,282.8 151.2,284.6 151.6,281.0 152.0,282.4 152.4,280.1 152.8,283.4 153.2,283.8 153.6,281.9 154.0,279.9 154.4,282.6 154.8,283.9 155.2,283.8 155.6,283.4 156.0,278.9 156.4,280.9 156.8,284.5 157.2,280.0 157.6,284.1 158.0,285.4 158.4,283.5 158.8,284.2 159.2,281.7 159.6,280.2 160.0,282.2 160.4,282.1 160.8,282.4 161.2,283.7 161.6,282.3 162.0,282.9 162.4,283.3 162.8,282.6 163.2,285.8 163.6,283.4 164.0,282.9 164.4,282.4 164.8,281.7 165.2,285.1 165.6,283.1 166.0,281.0 166.4,282.0 166.8,282.7 167.2,282.2 167.6,284.8 168.0,281.1 168.4,283.9 168.8,283.3 169.2,281.1 169.6,283.2 170.0,283.0 170.4,284.1 170.8,282.5 171.2,283.8 171.6,280.5 172.0,281.5 172.4,284.7 172.8,285.2 173.2,283.4 173.6,282.4 174.0,285.3 174.4,279.9 174.8,282.2 175.2,284.7 175.6,284.7 176.0,281.9 176.4,280.4 176.8,286.1 177.2,284.0 177.6,282.2 178.0,283.9 178.4,285.3 178.8,279.4 179.2,285.7 179.6,285.1 180.0,280.4 180.4,285.3 180.8,280.9 181.2,285.9 181.6,284.7 182.0,287.9 182.4,283.1 182.8,284.1 183.2,285.9 183.6,283.0 184.0,283.0 184.4,283.5 184.8,284.1 185.2,282.3 185.6,285.0 186.0,285.1 186.4,284.3 186.8,287.1 187.2,283.7 187.6,286.5 188.0,283.4 188.4,285.6 188.8,281.0 189.2,284.7 189.6,284.0 190.0,283.5 190.4,283.3 190.8,283.8 191.2,283.2 191.6,280.7 192.0,283.4 192.4,283.5 192.8,283.5 193.2,282.7 193.6,284.2 194.0,285.8 194.4,284.1 194.8,283.7 195.2,286.8 195.6,286.2 196.0,286.1 196.4,286.5 196.8,283.9 197.2,284.3 197.6,286.4 198.0,283.6 198.4,284.3 198.8,285.1 199.2,285.1 199.6,284.0 200.0,286.2 200.4,284.2 200.8,285.7 201.2,286.3 201.6,285.6 202.0,285.7 202.4,282.5 202.8,282.3 203.2,283.4 203.6,285.3 204.0,287.1 204.4,282.4 204.8,285.0 205.2,283.0 205.6,283.3 206.0,284.0 206.4,285.7 206.8,284.9 207.2,286.5 207.6,282.8 208.0,286.0 208.4,294.2 208.8,292.8 209.2,293.5 209.6,291.8 210.0,290.9 210.4,292.1 210.8,291.8 211.2,297.8 211.6,292.1 212.0,295.8 212.4,293.4 212.8,293.6 213.2,294.4 213.6,291.8 214.0,294.7 214.4,293.8 214.8,290.7 215.2,294.3 215.6,294.3 216.0,294.1 216.4,296.1 216.8,292.7 217.2,294.3 217.6,294.7 218.0,292.0 218.4,295.6 218.8,291.1 219.2,291.4 219.6,294.5 220.0,291.8 220.4,293.5 220.8,290.9 221.2,293.8 221.6,291.8 222.0,294.3 222.4,291.2 222.8,294.6 223.2,293.4 223.6,294.0 224.0,293.8 224.4,294.1 224.8,291.7 225.2,289.6 225.6,294.1 226.0,292.4 226.4,293.3 226.8,294.8 227.2,290.7 227.6,292.9 228.0,293.1 228.4,292.4 228.8,294.8 229.2,294.0 229.6,292.9 230.0,292.6 230.4,295.7 230.8,293.2 231.2,295.4 231.6,295.2 232.0,291.2 232.4,292.6 232.8,294.5 233.2,295.1 233.6,295.9 234.0,296.0 234.4,296.4 234.8,294.0 235.2,294.3 235.6,296.0 236.0,294.0 236.4,296.5 236.8,292.0 237.2,295.8 237.6,294.3 238.0,291.3 238.4,296.3 238.8,295.1 239.2,294.6 239.6,292.7 240.0,293.7 240.4,297.1 240.8,293.1 241.2,288.6 241.6,293.0 242.0,292.4 242.4,294.2 242.8,293.8 243.2,292.9 243.6,293.0 244.0,296.2 244.4,291.9 244.8,297.7 245.2,293.4 245.6,292.5 246.0,295.6 246.4,295.2 246.8,292.5 247.2,295.5 247.6,291.1 248.0,292.7 248.4,296.1 248.8,293.8 249.2,292.0 249.6,295.0 250.0,295.7 250.4,294.1 250.8,291.1 251.2,293.5 251.6,294.8 252.0,295.4 252.4,297.2 252.8,293.6 253.2,293.2 253.6,294.0 254.0,296.1 254.4,292.5 254.8,296.4 255.2,289.6 255.6,295.7 256.0,293.3 256.4,295.3 256.8,295.7 257.2,292.6 257.6,294.6 258.0,295.2 258.4,295.9 258.8,293.4 259.2,293.4 259.6,291.8 260.0,299.5 260.4,295.0 260.8,295.0 261.2,292.9 261.6,297.1 262.0,294.7 262.4,298.1 262.8,297.2 263.2,295.9 263.6,297.2 264.0,294.1 264.4,295.4 264.8,294.9 265.2,293.7 265.6,295.9 266.0,295.6 266.4,298.2 266.8,290.1 267.2,294.6 267.6,294.1 268.0,294.9 268.4,296.3 268.8,296.3 269.2,295.6 269.6,294.7 270.0,296.3 270.4,296.0 270.8,292.3 271.2,294.9 271.6,293.0 272.0,293.3 272.4,295.5 272.8,295.3 273.2,295.4 273.6,293.7 274.0,294.8 274.4,293.5 274.8,295.7 275.2,296.2 275.6,298.0 276.0,287.2 276.4,283.7 276.8,284.3 277.2,283.4 277.6,285.5 278.0,288.3 278.4,286.2 278.8,281.2 279.2,282.8 279.6,282.7 280.0,285.7 280.4,284.8 280.8,285.3 281.2,287.8 281.6,283.4 282.0,283.3 282.4,288.1 282.8,285.3 283.2,283.4 283.6,281.2 284.0,282.0 284.4,280.5 284.8,284.7 285.2,284.6 285.6,286.2 286.0,284.3 286.4,283.3 286.8,283.2 287.2,287.7 287.6,281.5 288.0,284.7 288.4,284.5 288.8,285.5 289.2,283.7 289.6,285.2 290.0,285.7 290.4,284.1 290.8,283.6 291.2,284.0 291.6,282.7 292.0,283.9 292.4,283.8 292.8,284.6 293.2,286.5 293.6,286.4 294.0,283.4 294.4,285.2 294.8,284.7 295.2,285.5 295.6,284.2 296.0,284.6 296.4,283.3 296.8,282.8 297.2,285.6 297.6,287.9 298.0,288.3 298.4,287.9 298.8,287.6 299.2,286.3 299.6,284.1 300.0,288.2 300.4,287.4 300.8,286.1 301.2,285.3 301.6,289.1 302.0,283.9 302.4,289.9 302.8,288.0 303.2,290.9 303.6,285.6 304.0,286.8 304.4,285.9 304.8,287.0 305.2,286.4 305.6,285.4 306.0,288.5 306.4,285.3 306.8,285.8 307.2,287.6 307.6,285.7 308.0,285.8 308.4,287.1 308.8,285.9 309.2,284.4 309.6,286.3 310.0,286.1 310.4,289.3 310.8,284.5 311.2,288.0 311.6,285.0 312.0,285.7 312.4,285.7 312.8,286.7 313.2,287.7 313.6,289.2 314.0,285.1 314.4,288.4 314.8,287.8 315.2,287.5 315.6,284.8 316.0,287.6 316.4,285.9 316.8,286.6 317.2,285.5 317.6,287.1 318.0,287.9 318.4,287.9 318.8,285.6 319.2,287.6 319.6,288.4 320.0,284.3 320.4,288.4 320.8,283.6 321.2,286.8 321.6,286.9 322.0,288.4 322.4,286.3 322.8,285.0 323.2,284.5 323.6,283.7 324.0,287.1 324.4,285.4 324.8,284.6 325.2,286.7 325.6,284.5 326.0,285.0 326.4,285.0 326.8,288.6 327.2,288.2 327.6,285.5 328.0,283.1 328.4,286.2 328.8,285.8 329.2,286.3 329.6,286.7 330.0,285.1 330.4,287.2 330.8,287.1 331.2,286.0 331.6,284.9 332.0,284.8 332.4,286.8 332.8,283.7 333.2,285.3 333.6,284.3 334.0,283.2 334.4,286.6 334.8,285.5 335.2,285.6 335.6,287.0 336.0,283.0 336.4,285.4 336.8,286.0 337.2,286.9 337.6,283.6 338.0,286.7 338.4,285.8 338.8,287.7 339.2,287.3 339.6,286.2 340.0,288.9 340.4,285.2 340.8,284.5 341.2,284.6 341.6,283.5 342.0,285.1 342.4,281.9 342.8,284.9 343.2,285.7 343.6,286.7 344.0,284.4 344.4,287.3 344.8,283.8 345.2,284.6 345.6,281.6 346.0,283.5 346.4,283.4 346.8,287.2 347.2,285.6 347.6,282.8 348.0,285.5 348.4,285.4 348.8,284.2 349.2,284.6 349.6,284.0 350.0,283.6 350.4,281.6 350.8,284.5 351.2,286.8 351.6,287.0 352.0,284.2 352.4,283.5 352.8,284.4 353.2,286.3 353.6,285.4 354.0,283.9 354.4,285.5 354.8,284.6 355.2,285.8 355.6,284.3 356.0,282.6 356.4,285.2 356.8,286.4 357.2,283.3 357.6,285.0 358.0,286.7 358.4,284.6 358.8,284.2 359.2,288.7 359.6,286.7 360.0,287.1 360.4,283.8 360.8,288.1 361.2,282.7 361.6,284.6 362.0,286.8 362.4,287.8 362.8,284.1 363.2,284.6 363.6,286.0 364.0,282.6 364.4,286.9 364.8,286.8 365.2,285.2 365.6,286.8 366.0,287.3 366.4,286.6 366.8,287.0 367.2,288.6 367.6,285.4 368.0,286.5 368.4,285.4 368.8,288.0 369.2,285.7 369.6,287.2 370.0,286.7 370.4,286.6 370.8,289.4 371.2,286.5 371.6,289.0 372.0,288.1 372.4,288.9 372.8,286.5 373.2,288.4 373.6,288.1 374.0,285.9 374.4,287.4 374.8,286.8 375.2,287.0 375.6,289.3 376.0,286.0 376.4,284.4 376.8,284.3 377.2,286.4 377.6,286.0 378.0,287.0 378.4,287.9 378.8,289.8 379.2,287.4 379.6,287.6 380.0,285.6 380.4,287.7 380.8,289.0 381.2,288.9 381.6,283.5 382.0,288.1 382.4,289.2 382.8,287.9 383.2,284.1 383.6,286.0 384.0,287.4 384.4,287.1 384.8,285.0 385.2,284.9 385.6,287.9 386.0,284.1 386.4,288.5 386.8,286.2 387.2,286.6 387.6,283.9 388.0,285.2 388.4,287.3 388.8,283.8 389.2,289.7 389.6,284.0 390.0,284.4 390.4,286.5 390.8,287.2 391.2,287.7 391.6,285.9 392.0,286.2 392.4,286.2 392.8,285.7 393.2,282.5 393.6,288.3 394.0,287.2 394.4,287.0 394.8,285.8 395.2,287.3 395.6,286.9 396.0,286.8 396.4,288.8 396.8,284.2 397.2,287.5 397.6,285.4 398.0,286.6 398.4,289.6 398.8,285.4 399.2,287.1 399.6,286.3 400.0,288.9 400.4,285.8 400.8,284.7 401.2,288.3 401.6,286.9 402.0,287.0 402.4,289.3 402.8,286.1 403.2,286.9 403.6,287.6 404.0,288.0 404.4,286.4 404.8,288.8 405.2,290.7 405.6,286.3 406.0,289.9 406.4,283.3 406.8,289.0 407.2,286.1 407.6,286.8 408.0,285.9 408.4,285.3 408.8,284.2 409.2,285.5 409.6,288.2 410.0,287.9 410.4,285.4 410.8,285.0 411.2,284.6 411.6,283.7 412.0,288.5 412.4,286.6 412.8,285.6 413.2,284.5 413.6,283.6 414.0,287.3 414.4,286.3 414.8,283.4 415.2,286.5 415.6,283.0 416.0,285.7 416.4,283.0 416.8,283.8 417.2,285.3 417.6,285.2 418.0,286.2 418.4,283.2 418.8,287.1 419.2,286.8 419.6,284.6 420.0,285.4 420.4,283.4 420.8,284.4 421.2,282.5 421.6,284.8 422.0,285.0 422.4,286.9 422.8,286.3 423.2,286.1 423.6,284.2 424.0,284.4 424.4,284.2 424.8,285.2 425.2,281.7 425.6,286.1 426.0,282.3 426.4,284.0 426.8,284.9 427.2,284.0 427.6,287.6 428.0,284.8 428.4,287.5 428.8,286.9 429.2,284.1 429.6,285.6 430.0,287.1 430.4,284.5 430.8,285.2 431.2,284.1 431.6,285.1 432.0,284.5 432.4,285.2 432.8,286.7 433.2,287.4 433.6,285.3 434.0,285.5 434.4,286.6 434.8,284.7 435.2,283.5 435.6,287.1 436.0,283.8 436.4,286.8 436.8,283.8 437.2,288.3 437.6,283.7 438.0,286.8 438.4,287.9 438.8,283.9 439.2,287.9 439.6,284.2 440.0,282.6 440.4,286.7 440.8,286.7 441.2,285.3 441.6,281.5 442.0,285.6 442.4,285.2 442.8,285.1 443.2,285.2 443.6,282.8 444.0,284.8 444.4,288.7 444.8,288.3 445.2,285.3 445.6,284.7 446.0,286.5 446.4,287.6 446.8,287.1 447.2,284.1 447.6,286.3 448.0,286.2 448.4,288.4 448.8,288.0 449.2,286.9 449.6,288.1 450.0,285.5 450.4,288.7 450.8,285.5 451.2,286.9 451.6,287.7 452.0,284.8 452.4,285.1 452.8,283.4 453.2,286.6 453.6,286.3 454.0,285.8 454.4,287.2 454.8,283.0 455.2,286.4 455.6,286.6 456.0,286.1 456.4,287.8 456.8,289.4 457.2,285.8 457.6,285.1 458.0,285.6 458.4,286.8 458.8,287.6 459.2,285.3 459.6,288.3 460.0,285.1 460.4,288.1 460.8,287.5 461.2,287.6 461.6,290.4 462.0,286.4 462.4,286.6 462.8,287.7 463.2,288.3 463.6,284.8 464.0,287.4 464.4,285.8 464.8,288.1 465.2,289.3 465.6,287.2 466.0,286.9 466.4,287.4 466.8,282.3 467.2,288.4 467.6,288.1 468.0,287.5 468.4,286.7 468.8,286.2 469.2,287.1 469.6,289.5 470.0,287.4 470.4,289.8 470.8,283.5 471.2,287.0 471.6,288.2 472.0,287.8 472.4,285.2 472.8,286.9 473.2,290.0 473.6,286.0 474.0,286.5 474.4,286.4 474.8,287.3 475.2,289.4 475.6,289.3 476.0,285.1 476.4,290.9 476.8,287.6 477.2,287.6 477.6,291.4 478.0,288.6 478.4,286.8 478.8,287.8 479.2,287.7 479.6,287.3 480.0,288.5 480.4,290.5 480.8,289.7 481.2,286.9 481.6,293.8 482.0,287.7 482.4,289.6 482.8,289.5 483.2,290.7 483.6,289.0 484.0,290.3 484.4,293.0 484.8,289.8 485.2,287.9 485.6,290.2 486.0,288.3 486.4,289.1 486.8,290.0 487.2,290.2 487.6,289.2 488.0,291.1 488.4,289.4 488.8,287.6 489.2,291.2 489.6,289.2 490.0,291.8 490.4,288.7 490.8,290.7 491.2,290.3 491.6,285.4 492.0,287.4 492.4,288.0 492.8,292.2 493.2,286.8 493.6,291.4 494.0,291.7 494.4,290.7 494.8,291.0 495.2,289.1 495.6,289.9 496.0,290.3 496.4,290.7 496.8,291.1 497.2,289.7 497.6,288.9 498.0,289.1 498.4,290.7 498.8,287.3 499.2,288.0 499.6,289.4 500.0,289.2 500.4,289.6 500.8,285.8 501.2,289.6 501.6,289.7 502.0,291.4 502.4,286.9 502.8,289.7 503.2,290.9 503.6,291.0 504.0,292.1 504.4,291.9 504.8,288.5 505.2,291.2 505.6,283.9 506.0,283.1 506.4,286.9 506.8,283.3 507.2,282.8 507.6,283.5 508.0,282.7 508.4,285.7 508.8,284.6 509.2,286.2 509.6,284.6 510.0,282.8 510.4,285.5 510.8,282.7 511.2,282.9 511.6,283.3 512.0,283.6 512.4,285.5 512.8,282.6 513.2,284.3 513.6,283.8 514.0,282.0 514.4,282.4 514.8,283.9 515.2,285.1 515.6,285.1 516.0,285.5 516.4,284.9 516.8,284.2 517.2,285.8 517.6,283.6 518.0,283.1 518.4,284.9 518.8,283.1 519.2,284.6 519.6,284.2 520.0,284.5 520.4,285.3 520.8,284.1 521.2,284.6 521.6,282.5 522.0,285.5 522.4,283.8 522.8,285.9 523.2,280.6 523.6,283.9 524.0,285.6 524.4,281.2 524.8,284.5 525.2,285.3 525.6,285.3 526.0,282.6 526.4,285.4 526.8,285.3 527.2,283.4 527.6,286.2 528.0,284.9 528.4,284.9 528.8,284.2 529.2,285.8 529.6,285.1 530.0,286.8 530.4,285.7 530.8,283.9 531.2,284.6 531.6,286.4 532.0,284.3 532.4,285.6 532.8,285.8 533.2,284.6 533.6,281.1 534.0,285.2 534.4,285.3 534.8,285.2 535.2,283.7 535.6,286.9 536.0,284.7 536.4,283.9 536.8,283.8 537.2,285.6 537.6,283.2 538.0,283.3 538.4,288.3 538.8,287.1 539.2,286.7 539.6,287.2 540.0,286.0 540.4,282.2 540.8,287.0 541.2,287.0 541.6,285.8 542.0,281.8 542.4,287.0 542.8,287.3 543.2,284.2 543.6,285.2 544.0,286.3 544.4,284.9 544.8,286.8 545.2,285.2 545.6,286.2 546.0,285.2 546.4,282.6 546.8,283.4 547.2,290.3 547.6,285.5 548.0,287.2 548.4,286.9 548.8,287.9 549.2,286.0 549.6,284.1 550.0,285.1 550.4,281.9 550.8,284.8 551.2,286.6 551.6,281.5 552.0,285.4 552.4,286.4 552.8,287.3 553.2,283.6 553.6,284.0 554.0,282.0 554.4,283.4 554.8,286.0 555.2,288.5 555.6,283.2 556.0,287.4 556.4,287.1 556.8,286.8 557.2,291.1 557.6,283.3 558.0,287.3 558.4,287.8 558.8,290.9 559.2,290.3 559.6,291.0 560.0,287.4 560.4,288.8 560.8,289.4 561.2,287.9 561.6,287.6 562.0,286.7 562.4,286.3 562.8,284.9 563.2,290.1 563.6,286.1 564.0,283.3 564.4,287.2 564.8,286.6 565.2,286.9 565.6,289.6 566.0,286.4 566.4,286.1 566.8,285.3 567.2,286.4 567.6,285.7 568.0,286.8 568.4,291.6 568.8,287.1 569.2,285.0 569.6,289.6 570.0,287.8 570.4,287.8 570.8,287.6 571.2,287.7 571.6,287.5 572.0,288.7 572.4,288.0 572.8,288.6 573.2,285.5 573.6,286.3 574.0,285.1 574.4,287.9 574.8,287.7 575.2,285.5 575.6,287.2 576.0,290.6 576.4,288.3 576.8,284.4 577.2,286.1 577.6,287.3 578.0,286.1 578.4,286.8 578.8,288.1 579.2,286.7 579.6,284.3 580.0,287.3 580.4,286.0 580.8,286.3 581.2,285.2 581.6,283.8 582.0,284.0 582.4,285.5 582.8,284.3 583.2,281.6 583.6,288.0 584.0,284.1 584.4,284.8 584.8,286.9 585.2,282.0 585.6,288.2 586.0,284.7 586.4,287.1 586.8,285.2 587.2,286.5 587.6,286.1 588.0,285.9 588.4,282.9 588.8,283.5 589.2,285.9 589.6,288.2 590.0,285.0 590.4,286.8 590.8,286.2 591.2,286.7 591.6,287.5 592.0,283.4 592.4,286.3 592.8,285.6 593.2,285.3 593.6,284.4 594.0,284.5 594.4,284.1 594.8,284.0 595.2,290.0 595.6,288.6 596.0,285.8 596.4,287.0 596.8,284.1 597.2,281.2 597.6,282.7 598.0,286.0 598.4,288.1 598.8,285.7 599.2,284.1 599.6,285.3 600.0,284.1 600.4,283.4 600.8,285.3 601.2,285.0 601.6,284.3 602.0,284.2 602.4,284.1 602.8,286.0 603.2,287.9 603.6,285.3 604.0,289.3 604.4,282.9 604.8,286.1 605.2,283.7 605.6,285.3 606.0,285.8 606.4,286.5 606.8,287.4 607.2,284.6 607.6,283.5 608.0,285.2 608.4,286.0 608.8,284.4 609.2,287.0 609.6,288.3 610.0,283.1 610.4,286.1 610.8,287.1 611.2,282.2 611.6,285.7 612.0,285.0 612.4,282.9 612.8,287.4 613.2,285.6 613.6,284.4 614.0,285.9 614.4,286.2 614.8,286.3 615.2,286.0 615.6,285.7 616.0,283.0 616.4,284.2 616.8,285.1 617.2,280.2 617.6,288.3 618.0,284.1 618.4,283.0 618.8,281.7 619.2,285.0 619.6,284.6 620.0,283.6 620.4,283.8 620.8,283.0 621.2,283.2 621.6,284.2 622.0,283.3 622.4,285.4 622.8,284.0 623.2,284.5 623.6,284.9 624.0,286.3 624.4,285.1 624.8,284.5 625.2,283.8 625.6,282.7 626.0,283.4 626.4,285.1 626.8,284.4 627.2,283.5 627.6,282.1 628.0,281.9 628.4,285.2 628.8,286.5 629.2,285.6 629.6,282.8 630.0,284.9 630.4,285.8 630.8,284.0 631.2,286.0 631.6,285.1 632.0,284.0 632.4,283.3 632.8,286.7 633.2,285.9 633.6,283.8 634.0,283.6 634.4,286.7 634.8,286.2 635.2,284.7 635.6,287.8 636.0,284.6 636.4,283.4 636.8,286.9 637.2,284.7 637.6,285.6 638.0,285.1 638.4,283.3 638.8,283.0 639.2,284.6 639.6,287.2 640.0,283.2 640.4,287.1 640.8,285.2 641.2,282.9 641.6,285.2 642.0,285.7 642.4,283.2 642.8,281.1 643.2,285.2 643.6,282.8 644.0,285.3 644.4,281.4 644.8,284.3 645.2,283.2 645.6,282.0 646.0,284.0 646.4,284.7 646.8,283.5 647.2,282.4 647.6,284.7 648.0,281.4 648.4,285.2 648.8,285.1 649.2,287.0 649.6,285.7 650.0,284.8 650.4,284.6 650.8,284.2 651.2,281.9 651.6,286.4 652.0,284.8 652.4,283.4 652.8,281.9 653.2,286.2 653.6,284.6 654.0,281.7 654.4,284.7 654.8,286.7 655.2,283.4 655.6,284.4 656.0,282.4 656.4,281.9 656.8,285.8 657.2,290.3 657.6,283.4 658.0,282.8 658.4,284.9 658.8,282.4 659.2,279.7 659.6,279.9 660.0,275.6 660.4,275.4 660.8,277.7 661.2,279.8 661.6,278.4 662.0,280.6 662.4,274.5 662.8,278.8 663.2,276.2 663.6,277.9 664.0,278.3 664.4,275.3 664.8,277.0 665.2,274.8 665.6,278.1 666.0,275.5 666.4,276.3 666.8,277.9 667.2,275.8 667.6,280.0 668.0,275.8 668.4,279.2 668.8,277.9 669.2,274.8 669.6,276.6 670.0,275.2 670.4,276.2 670.8,276.4 671.2,281.2 671.6,276.0 672.0,280.6 672.4,278.0 672.8,274.0 673.2,271.6 673.6,278.5 674.0,272.4 674.4,278.6 674.8,279.3 675.2,277.8 675.6,276.4 676.0,276.3 676.4,277.5 676.8,276.2 677.2,275.7 677.6,276.0 678.0,279.6 678.4,275.5 678.8,277.8 679.2,274.2 679.6,275.2 680.0,273.7 680.4,276.4 680.8,278.4 681.2,277.5 681.6,275.7 682.0,278.2 682.4,276.0 682.8,277.7 683.2,277.4 683.6,278.0 684.0,271.0 684.4,273.7 684.8,278.4 685.2,276.4 685.6,281.7 686.0,276.0 686.4,275.2 686.8,279.9 687.2,277.7 687.6,280.7 688.0,277.5 688.4,275.8 688.8,277.9 689.2,274.3 689.6,275.1 690.0,274.8 690.4,275.5 690.8,277.8 691.2,274.8 691.6,276.6 692.0,274.7 692.4,277.8 692.8,269.4 693.2,275.2 693.6,276.0 694.0,273.1 694.4,277.9 694.8,276.0 695.2,278.4 695.6,277.6 696.0,276.9 696.4,275.1 696.8,272.9 697.2,275.0 697.6,274.4 698.0,276.1 698.4,274.4 698.8,282.6 699.2,271.9 699.6,278.3 700.0,274.5 700.4,275.0 700.8,277.7 701.2,275.6 701.6,272.8 702.0,276.6 702.4,275.2 702.8,270.9 703.2,276.2 703.6,273.3 704.0,274.0 704.4,276.9 704.8,276.4 705.2,275.1 705.6,280.8 706.0,276.7 706.4,274.2 706.8,276.1 707.2,275.1 707.6,270.2 708.0,271.6 708.4,271.9 708.8,279.7 709.2,274.4 709.6,274.1 710.0,273.3 710.4,276.7 710.8,274.4 711.2,278.2 711.6,276.0 712.0,277.8 712.4,273.7 712.8,274.7 713.2,272.7 713.6,273.2 714.0,269.5 714.4,272.0 714.8,271.1 715.2,271.6 715.6,275.8 716.0,273.5 716.4,275.7 716.8,274.8 717.2,274.9 717.6,275.1 718.0,271.4 718.4,274.6 718.8,272.0 719.2,271.5 719.6,275.4 720.0,277.6 720.4,270.4 720.8,276.6 721.2,274.5 721.6,270.6 722.0,273.2 722.4,273.4 722.8,273.4 723.2,271.7 723.6,269.5 724.0,272.5 724.4,274.4 724.8,274.2 725.2,273.9 725.6,274.9 726.0,270.0 726.4,272.2 726.8,273.0 727.2,274.5 727.6,272.6 728.0,273.4 728.4,272.5 728.8,277.0 729.2,267.1 729.6,272.0 730.0,277.7 730.4,272.6 730.8,267.8 731.2,272.3 731.6,268.7 732.0,270.4 732.4,272.4 732.8,275.8 733.2,272.9 733.6,273.4 734.0,274.2 734.4,272.3 734.8,269.8 735.2,271.5 735.6,272.5 736.0,271.1 736.4,270.2 736.8,270.9 737.2,268.2 737.6,269.3 738.0,271.4 738.4,270.8 738.8,271.7 739.2,274.8 739.6,272.2 740.0,271.4 740.4,268.8 740.8,269.0 741.2,272.3 741.6,269.4 742.0,272.4 742.4,268.9 742.8,271.7 743.2,271.2 743.6,273.6 744.0,270.4 744.4,270.4 744.8,272.0 745.2,271.6 745.6,275.5 746.0,271.1 746.4,270.6 746.8,271.2 747.2,273.1 747.6,272.6 748.0,273.8 748.4,269.1 748.8,278.0 749.2,276.7 749.6,272.5 750.0,269.9 750.4,273.1 750.8,273.8 751.2,267.8 751.6,273.1 752.0,269.8 752.4,274.3 752.8,276.4 753.2,275.6 753.6,269.7 754.0,276.3 754.4,275.2 754.8,272.2 755.2,274.1 755.6,276.4 756.0,272.1 756.4,272.8 756.8,271.5 757.2,275.4 757.6,267.8 758.0,275.9 758.4,270.4 758.8,274.7 759.2,268.8 759.6,270.3 760.0,271.0 760.4,274.2 760.8,268.6 761.2,273.6 761.6,270.7 762.0,275.0 762.4,271.4 762.8,273.2 763.2,271.6 763.6,276.0 764.0,271.1 764.4,271.8 764.8,276.3 765.2,271.9 765.6,273.3 766.0,270.0 766.4,272.1 766.8,266.4 767.2,271.7 767.6,270.0 768.0,268.0 768.4,268.1 768.8,273.9 769.2,272.2 769.6,267.8 770.0,275.4 770.4,269.6 770.8,270.3 771.2,271.7 771.6,268.5 772.0,267.3 772.4,269.3 772.8,273.7 773.2,273.1 773.6,267.3 774.0,273.6 774.4,270.9 774.8,272.0 775.2,270.9 775.6,271.7 776.0,268.4 776.4,268.6 776.8,269.0 777.2,269.8 777.6,272.0 778.0,267.8 778.4,274.2 778.8,269.0 779.2,269.1 779.6,272.0 780.0,271.4 780.4,269.6 780.8,267.9 781.2,268.0 781.6,266.7 782.0,273.0 782.4,272.9 782.8,274.7 783.2,271.6 783.6,271.3 784.0,272.3 784.4,272.8 784.8,270.0 785.2,271.5 785.6,275.6 786.0,266.8 786.4,267.5 786.8,268.6 787.2,272.5 787.6,273.6 788.0,270.1 788.4,272.4 788.8,270.8 789.2,271.7 789.6,269.8 790.0,271.0 790.4,271.1 790.8,273.7 791.2,276.2 791.6,267.0 792.0,272.4 792.4,271.2 792.8,273.5 793.2,273.7 793.6,274.6 794.0,276.1 794.4,272.1 794.8,270.4 795.2,278.1 795.6,277.0 796.0,272.0 796.4,277.2 796.8,275.7 797.2,268.6 797.6,276.2 798.0,271.9 798.4,276.8 798.8,272.6 799.2,272.4 799.6,270.6 800.0,273.6 800.4,276.4 800.8,272.6 801.2,269.8 801.6,279.0 802.0,278.3 802.4,275.6 802.8,272.8 803.2,271.2 803.6,270.3 804.0,275.3 804.4,277.0 804.8,271.5 805.2,274.0 805.6,273.3 806.0,273.3 806.4,275.1 806.8,278.7 807.2,272.4 807.6,275.8 808.0,276.4 808.4,273.2 808.8,273.5 809.2,270.8 809.6,276.3 810.0,272.6 810.4,272.3 810.8,273.9 811.2,271.8 811.6,271.4 812.0,273.1 812.4,277.2 812.8,273.3 813.2,274.9" fill="none" stroke="#7070ff" stroke-width="0.7" stroke-opacity="0.55" stroke-linejoin="round"/>
<polyline points="30.0,293.8 30.5,293.2 31.0,298.1 31.5,295.3 32.0,293.8 32.5,295.7 33.0,296.7 33.5,293.6 34.0,294.8 34.5,296.3 35.0,294.8 35.5,297.0 36.0,297.3 36.5,296.6 37.0,295.5 37.5,296.0 38.0,295.3 38.5,296.0 39.0,296.6 39.5,295.8 40.0,297.5 40.5,299.7 41.0,295.6 41.5,296.8 42.0,297.4 42.5,297.2 43.0,296.1 43.5,295.8 44.0,297.8 44.5,297.3 45.0,297.2 45.5,295.5 46.0,297.4 46.5,297.6 47.0,296.4 47.5,297.5 48.0,299.5 48.5,294.2 49.0,297.5 49.5,295.1 50.0,294.8 50.5,296.3 51.0,297.3 51.5,296.6 52.0,295.0 52.5,294.6 53.0,295.7 53.5,296.4 54.0,295.3 54.5,294.4 55.0,298.6 55.5,295.2 56.0,296.0 56.5,295.5 57.0,295.4 57.5,296.2 58.0,295.7 58.5,296.9 59.0,294.5 59.5,294.0 60.0,298.4 60.5,295.7 61.0,296.7 61.5,297.1 62.0,296.2 62.5,295.5 63.0,293.3 63.5,293.1 64.0,296.5 64.5,296.0 65.0,295.8 65.5,292.7 66.0,292.0 66.5,293.4 67.0,293.1 67.5,294.8 68.0,293.1 68.5,296.5 69.0,293.5 69.5,293.5 70.0,295.3 70.5,294.5 71.0,292.8 71.5,295.0 72.0,296.4 72.5,292.1 73.0,293.3 73.5,292.0 74.0,290.7 74.5,293.9 75.0,293.9 75.5,294.1 76.0,293.2 76.5,289.8 77.0,292.2 77.5,291.2 78.0,290.4 78.5,290.3 79.0,292.6 79.5,291.0 80.0,293.9 80.5,291.7 81.0,288.4 81.5,291.9 82.0,292.3 82.5,290.5 83.0,288.7 83.5,292.4 84.0,288.2 84.5,289.7 85.0,287.1 85.5,287.9 86.0,287.2 86.5,290.9 87.0,290.9 87.5,288.8 88.0,287.5 88.5,289.1 89.0,289.6 89.5,287.1 90.0,288.1 90.5,288.9 91.0,289.5 91.5,288.9 92.0,289.2 92.5,287.8 93.0,286.7 93.5,288.9 94.0,287.9 94.5,288.4 95.0,288.2 95.5,288.8 96.0,287.7 96.5,289.4 97.0,288.3 97.5,288.6 98.0,288.6 98.5,288.9 99.0,288.3 99.5,286.5 100.0,287.3 100.5,289.2 101.0,288.0 101.5,288.0 102.0,287.8 102.5,286.9 103.0,286.8 103.5,286.7 104.0,288.0 104.5,287.3 105.0,288.3 105.5,287.2 106.0,288.2 106.5,287.0 107.0,285.7 107.5,287.9 108.0,286.7 108.5,287.3 109.0,286.4 109.5,285.9 110.0,286.2 110.5,285.1 111.0,284.9 111.5,285.1 112.0,285.3 112.5,284.5 113.0,285.4 113.5,285.7 114.0,286.9 114.5,286.7 115.0,285.1 115.5,285.8 116.0,284.9 116.5,285.3 117.0,285.0 117.5,284.5 118.0,285.0 118.5,283.7 119.0,285.2 119.5,284.6 120.0,283.9 120.5,284.5 121.0,285.2 121.5,284.2 122.0,285.0 122.5,285.1 123.0,285.8 123.5,283.7 124.0,284.4 124.5,284.9 125.0,285.7 125.5,284.6 126.0,285.0 126.5,283.2 127.0,283.9 127.5,285.6 128.0,284.0 128.5,285.9 129.0,283.6 129.5,284.0 130.0,282.9 130.5,284.6 131.0,284.3 131.5,285.6 132.0,284.1 132.5,283.8 133.0,282.8 133.5,283.8 134.0,284.6 134.5,284.4 135.0,284.7 135.5,284.3 136.0,283.5 136.5,284.0 137.0,283.6 137.5,282.3 138.0,284.6 138.5,283.5 139.0,282.3 139.5,283.4 140.0,283.2 140.5,283.7 141.0,284.0 141.5,280.3 142.0,283.1 142.5,283.8 143.0,281.8 143.5,281.0 144.0,282.6 144.5,282.6 145.0,282.5 145.5,281.3 146.0,281.7 146.5,282.2 147.0,282.5 147.5,283.6 148.0,282.0 148.5,281.2 149.0,279.8 149.5,282.4 150.0,281.4 150.5,281.5 151.0,280.8 151.5,282.2 152.0,280.3 152.5,281.8 153.0,281.9 153.5,282.0 154.0,282.9 154.5,281.8 155.0,282.0 155.5,282.7 156.0,280.8 156.5,281.8 157.0,282.2 157.5,282.9 158.0,281.6 158.5,282.9 159.0,282.6 159.5,281.1 160.0,281.2 160.5,281.3 161.0,282.6 161.5,282.7 162.0,283.1 162.5,283.2 163.0,282.2 163.5,283.5 164.0,283.4 164.5,283.1 165.0,283.2 165.5,281.8 166.0,283.2 166.5,282.1 167.0,282.0 167.5,282.7 168.0,283.1 168.5,283.0 169.0,282.8 169.5,282.3 170.0,283.3 170.5,282.6 171.0,282.1 171.5,283.4 172.0,284.5 172.5,283.0 173.0,282.6 173.5,284.5 174.0,284.8 174.5,283.3 175.0,283.4 175.5,283.8 176.0,286.0 176.5,283.8 177.0,284.5 177.5,284.1 178.0,282.3 178.5,282.9 179.0,282.9 179.5,284.2 180.0,284.0 180.5,285.4 181.0,283.8 181.5,284.3 182.0,284.1 182.5,284.2 183.0,286.0 183.5,284.4 184.0,285.3 184.5,285.2 185.0,283.7 185.5,284.7 186.0,283.9 186.5,284.3 187.0,284.4 187.5,284.3 188.0,283.9 188.5,285.5 189.0,284.1 189.5,284.9 190.0,285.7 190.5,284.9 191.0,285.2 191.5,285.5 192.0,285.3 192.5,285.8 193.0,283.3 193.5,286.0 194.0,284.5 194.5,283.1 195.0,284.0 195.5,283.4 196.0,284.5 196.5,283.3 197.0,283.7 197.5,284.7 198.0,284.6 198.5,283.9 199.0,284.3 199.5,284.4 200.0,284.6 200.5,284.5 201.0,284.3 201.5,285.2 202.0,283.2 202.5,284.1 203.0,284.6 203.5,284.2 204.0,284.1 204.5,284.2 205.0,284.7 205.5,285.5 206.0,284.4 206.5,284.3 207.0,284.8 207.5,284.3 208.0,283.0 208.5,292.8 209.0,292.4 209.5,292.3 210.0,293.3 210.5,292.9 211.0,292.4 211.5,291.2 212.0,291.6 212.5,293.0 213.0,293.0 213.5,293.5 214.0,293.3 214.5,292.8 215.0,292.3 215.5,292.4 216.0,293.2 216.5,292.5 217.0,294.0 217.5,292.4 218.0,292.1 218.5,293.4 219.0,292.1 219.5,294.9 220.0,292.8 220.5,293.6 221.0,293.5 221.5,293.1 222.0,292.3 222.5,292.3 223.0,294.5 223.5,294.7 224.0,295.6 224.5,292.8 225.0,294.4 225.5,294.0 226.0,294.7 226.5,293.7 227.0,294.7 227.5,294.9 228.0,294.7 228.5,295.4 229.0,294.1 229.5,295.5 230.0,293.8 230.5,295.7 231.0,292.2 231.5,294.4 232.0,293.8 232.5,294.5 233.0,295.3 233.5,295.1 234.0,294.7 234.5,296.0 235.0,293.5 235.5,294.0 236.0,295.9 236.5,294.9 237.0,293.0 237.5,294.9 238.0,293.7 238.5,295.8 239.0,295.5 239.5,294.1 240.0,295.6 240.5,293.8 241.0,295.2 241.5,294.9 242.0,294.4 242.5,293.3 243.0,294.2 243.5,292.6 244.0,293.9 244.5,292.9 245.0,295.3 245.5,293.6 246.0,292.4 246.5,294.8 247.0,294.6 247.5,293.8 248.0,295.9 248.5,294.8 249.0,294.2 249.5,293.7 250.0,291.8 250.5,294.5 251.0,294.9 251.5,293.6 252.0,292.9 252.5,294.0 253.0,292.7 253.5,294.0 254.0,294.6 254.5,295.3 255.0,294.4 255.5,294.5 256.0,295.0 256.5,295.6 257.0,294.3 257.5,293.7 258.0,294.2 258.5,293.9 259.0,294.3 259.5,295.0 260.0,295.5 260.5,295.4 261.0,295.5 261.5,295.2 262.0,295.9 262.5,296.4 263.0,296.4 263.5,297.1 264.0,295.8 264.5,295.8 265.0,297.3 265.5,296.0 266.0,296.2 266.5,295.5 267.0,296.5 267.5,295.4 268.0,294.8 268.5,295.6 269.0,295.2 269.5,296.2 270.0,295.2 270.5,295.5 271.0,295.2 271.5,295.6 272.0,294.8 272.5,296.1 273.0,294.1 273.5,294.9 274.0,294.5 274.5,295.6 275.0,295.1 275.5,295.4 276.0,284.8 276.5,284.5 277.0,284.1 277.5,284.7 278.0,284.5 278.5,285.2 279.0,285.2 279.5,285.7 280.0,284.8 280.5,284.2 281.0,284.0 281.5,284.8 282.0,285.0 282.5,286.3 283.0,284.8 283.5,286.1 284.0,286.1 284.5,283.8 285.0,285.6 285.5,285.5 286.0,285.6 286.5,284.5 287.0,285.2 287.5,284.1 288.0,284.4 288.5,284.4 289.0,285.8 289.5,284.2 290.0,285.1 290.5,284.4 291.0,283.8 291.5,284.5 292.0,284.8 292.5,283.7 293.0,284.8 293.5,283.7 294.0,283.5 294.5,284.4 295.0,284.0 295.5,283.4 296.0,282.8 296.5,284.1 297.0,284.3 297.5,283.7 298.0,287.3 298.5,285.9 299.0,287.4 299.5,287.4 300.0,287.3 300.5,286.5 301.0,287.1 301.5,287.1 302.0,287.8 302.5,287.1 303.0,287.1 303.5,286.3 304.0,287.5 304.5,287.7 305.0,286.4 305.5,287.2 306.0,286.9 306.5,286.6 307.0,285.6 307.5,288.0 308.0,285.1 308.5,286.8 309.0,286.2 309.5,287.4 310.0,286.1 310.5,286.4 311.0,286.9 311.5,286.7 312.0,285.9 312.5,286.8 313.0,286.6 313.5,287.0 314.0,285.8 314.5,286.1 315.0,285.8 315.5,285.4 316.0,286.3 316.5,286.4 317.0,287.1 317.5,285.7 318.0,286.3 318.5,286.9 319.0,285.9 319.5,286.0 320.0,286.0 320.5,285.4 321.0,285.1 321.5,286.8 322.0,286.0 322.5,285.8 323.0,284.9 323.5,285.9 324.0,286.8 324.5,284.9 325.0,285.1 325.5,286.7 326.0,286.9 326.5,287.0 327.0,285.3 327.5,286.2 328.0,285.1 328.5,286.1 329.0,285.4 329.5,285.8 330.0,286.7 330.5,285.9 331.0,285.5 331.5,285.7 332.0,285.8 332.5,285.2 333.0,285.8 333.5,286.1 334.0,286.8 334.5,283.9 335.0,284.6 335.5,284.6 336.0,286.2 336.5,287.5 337.0,285.7 337.5,285.6 338.0,286.3 338.5,283.5 339.0,285.2 339.5,282.8 340.0,285.4 340.5,284.8 341.0,284.8 341.5,285.4 342.0,284.7 342.5,286.0 343.0,285.0 343.5,285.3 344.0,287.0 344.5,284.6 345.0,285.6 345.5,284.2 346.0,285.8 346.5,285.5 347.0,284.8 347.5,285.5 348.0,285.9 348.5,285.7 349.0,284.5 349.5,284.5 350.0,285.4 350.5,283.4 351.0,284.1 351.5,285.0 352.0,285.2 352.5,286.2 353.0,286.2 353.5,285.1 354.0,285.2 354.5,283.9 355.0,284.8 355.5,285.2 356.0,284.9 356.5,285.1 357.0,285.6 357.5,284.4 358.0,284.7 358.5,283.8 359.0,286.2 359.5,284.5 360.0,284.0 360.5,286.0 361.0,285.3 361.5,286.2 362.0,285.2 362.5,287.3 363.0,286.2 363.5,285.8 364.0,285.9 364.5,285.7 365.0,286.5 365.5,287.5 366.0,285.7 366.5,285.2 367.0,286.6 367.5,287.0 368.0,285.1 368.5,285.8 369.0,285.6 369.5,286.9 370.0,286.9 370.5,286.0 371.0,285.7 371.5,287.2 372.0,285.1 372.5,287.3 373.0,286.7 373.5,288.4 374.0,287.7 374.5,286.5 375.0,286.8 375.5,286.9 376.0,286.6 376.5,287.2 377.0,287.9 377.5,285.9 378.0,286.8 378.5,288.2 379.0,287.5 379.5,286.2 380.0,286.2 380.5,286.1 381.0,285.5 381.5,287.6 382.0,286.7 382.5,286.0 383.0,285.4 383.5,286.2 384.0,286.0 384.5,287.7 385.0,286.0 385.5,286.4 386.0,287.1 386.5,286.7 387.0,286.0 387.5,284.4 388.0,287.3 388.5,286.7 389.0,285.9 389.5,286.2 390.0,285.6 390.5,285.7 391.0,285.3 391.5,286.9 392.0,287.0 392.5,286.7 393.0,287.3 393.5,287.1 394.0,286.8 394.5,286.1 395.0,287.3 395.5,287.8 396.0,287.4 396.5,288.0 397.0,286.7 397.5,286.3 398.0,288.1 398.5,286.7 399.0,287.4 399.5,287.1 400.0,287.4 400.5,287.2 401.0,287.0 401.5,286.1 402.0,289.0 402.5,287.7 403.0,286.0 403.5,286.7 404.0,286.4 404.5,286.6 405.0,285.1 405.5,287.4 406.0,288.2 406.5,286.6 407.0,287.2 407.5,287.0 408.0,285.5 408.5,287.3 409.0,284.9 409.5,285.7 410.0,285.7 410.5,286.9 411.0,285.9 411.5,285.6 412.0,284.9 412.5,285.5 413.0,285.4 413.5,285.8 414.0,286.2 414.5,285.6 415.0,284.9 415.5,284.7 416.0,286.0 416.5,284.7 417.0,284.5 417.5,285.9 418.0,285.8 418.5,285.0 419.0,284.5 419.5,284.1 420.0,285.5 420.5,284.3 421.0,285.4 421.5,284.1 422.0,284.8 422.5,285.0 423.0,284.8 423.5,284.9 424.0,285.1 424.5,283.9 425.0,283.9 425.5,284.7 426.0,286.2 426.5,284.8 427.0,284.1 427.5,284.4 428.0,284.9 428.5,285.9 429.0,284.5 429.5,285.4 430.0,285.1 430.5,284.7 431.0,284.3 431.5,284.9 432.0,284.5 432.5,285.5 433.0,283.7 433.5,286.0 434.0,285.7 434.5,285.6 435.0,286.4 435.5,285.7 436.0,283.9 436.5,285.4 437.0,285.7 437.5,284.8 438.0,284.5 438.5,285.8 439.0,285.9 439.5,285.2 440.0,285.3 440.5,285.2 441.0,285.1 441.5,285.6 442.0,286.5 442.5,284.4 443.0,285.4 443.5,287.0 444.0,286.0 444.5,285.9 445.0,286.5 445.5,285.1 446.0,284.9 446.5,284.6 447.0,284.8 447.5,286.2 448.0,286.7 448.5,285.7 449.0,285.5 449.5,286.4 450.0,286.6 450.5,286.4 451.0,284.7 451.5,285.8 452.0,284.3 452.5,286.5 453.0,285.7 453.5,285.8 454.0,287.5 454.5,287.4 455.0,286.8 455.5,286.7 456.0,286.6 456.5,286.1 457.0,286.5 457.5,288.1 458.0,285.9 458.5,286.1 459.0,286.8 459.5,287.4 460.0,287.4 460.5,286.0 461.0,286.7 461.5,286.6 462.0,285.9 462.5,286.9 463.0,286.5 463.5,287.7 464.0,287.3 464.5,286.4 465.0,287.1 465.5,286.8 466.0,286.6 466.5,286.7 467.0,288.0 467.5,286.9 468.0,285.9 468.5,286.7 469.0,288.0 469.5,289.1 470.0,286.7 470.5,287.3 471.0,287.4 471.5,286.7 472.0,288.1 472.5,287.9 473.0,288.2 473.5,289.8 474.0,287.9 474.5,288.8 475.0,288.9 475.5,287.9 476.0,288.0 476.5,289.7 477.0,289.1 477.5,288.8 478.0,287.9 478.5,289.5 479.0,289.3 479.5,290.6 480.0,290.2 480.5,289.7 481.0,289.4 481.5,289.3 482.0,288.9 482.5,289.6 483.0,289.6 483.5,290.0 484.0,290.4 484.5,289.9 485.0,289.2 485.5,290.3 486.0,290.9 486.5,289.0 487.0,290.0 487.5,290.1 488.0,290.1 488.5,290.1 489.0,289.7 489.5,289.7 490.0,291.1 490.5,291.1 491.0,288.7 491.5,287.8 492.0,290.2 492.5,289.3 493.0,289.5 493.5,288.6 494.0,290.2 494.5,289.9 495.0,289.5 495.5,290.6 496.0,291.8 496.5,291.1 497.0,290.9 497.5,289.7 498.0,290.5 498.5,290.0 499.0,290.9 499.5,290.5 500.0,290.0 500.5,290.5 501.0,289.5 501.5,290.7 502.0,291.3 502.5,289.9 503.0,290.6 503.5,288.9 504.0,290.9 504.5,290.9 505.0,289.4 505.5,285.8 506.0,284.5 506.5,283.0 507.0,283.2 507.5,284.9 508.0,283.9 508.5,284.9 509.0,282.8 509.5,283.8 510.0,284.6 510.5,283.2 511.0,284.2 511.5,283.3 512.0,283.8 512.5,283.8 513.0,285.4 513.5,282.9 514.0,284.6 514.5,285.2 515.0,283.5 515.5,284.6 516.0,286.5 516.5,285.7 517.0,282.7 517.5,285.0 518.0,284.0 518.5,285.7 519.0,284.9 519.5,285.0 520.0,284.8 520.5,285.6 521.0,285.0 521.5,284.6 522.0,285.1 522.5,285.6 523.0,284.6 523.5,286.1 524.0,283.9 524.5,285.5 525.0,284.8 525.5,286.3 526.0,284.6 526.5,284.5 527.0,284.0 527.5,286.5 528.0,285.4 528.5,284.1 529.0,284.6 529.5,284.2 530.0,286.1 530.5,285.2 531.0,283.3 531.5,285.1 532.0,285.6 532.5,284.9 533.0,285.3 533.5,284.9 534.0,285.1 534.5,285.1 535.0,284.4 535.5,285.2 536.0,285.1 536.5,284.9 537.0,284.4 537.5,284.2 538.0,285.2 538.5,285.6 539.0,283.1 539.5,284.6 540.0,286.0 540.5,285.7 541.0,284.4 541.5,286.0 542.0,284.2 542.5,284.4 543.0,286.5 543.5,284.7 544.0,284.8 544.5,283.7 545.0,284.2 545.5,284.1 546.0,284.9 546.5,283.6 547.0,285.9 547.5,284.8 548.0,284.6 548.5,284.6 549.0,285.6 549.5,286.2 550.0,284.7 550.5,286.3 551.0,286.3 551.5,286.1 552.0,285.3 552.5,283.9 553.0,285.6 553.5,284.8 554.0,285.2 554.5,283.6 555.0,284.9 555.5,285.3 556.0,284.4 556.5,287.8 557.0,288.8 557.5,287.7 558.0,286.9 558.5,289.2 559.0,285.7 559.5,286.6 560.0,287.5 560.5,286.7 561.0,285.3 561.5,287.3 562.0,287.6 562.5,286.3 563.0,288.0 563.5,287.2 564.0,287.7 564.5,285.5 565.0,286.7 565.5,287.9 566.0,288.1 566.5,287.5 567.0,286.5 567.5,286.6 568.0,286.0 568.5,287.3 569.0,285.9 569.5,286.5 570.0,284.8 570.5,285.2 571.0,287.8 571.5,286.4 572.0,286.5 572.5,284.6 573.0,286.3 573.5,287.9 574.0,285.1 574.5,284.4 575.0,286.2 575.5,285.9 576.0,286.1 576.5,285.3 577.0,285.2 577.5,285.3 578.0,286.7 578.5,286.2 579.0,286.8 579.5,285.3 580.0,286.6 580.5,285.8 581.0,286.2 581.5,286.8 582.0,286.1 582.5,285.8 583.0,284.8 583.5,286.1 584.0,286.7 584.5,285.5 585.0,286.0 585.5,284.6 586.0,285.0 586.5,286.3 587.0,287.0 587.5,285.7 588.0,284.6 588.5,285.6 589.0,284.7 589.5,285.7 590.0,287.4 590.5,286.1 591.0,285.8 591.5,286.7 592.0,285.6 592.5,286.1 593.0,286.0 593.5,286.2 594.0,284.7 594.5,286.4 595.0,286.5 595.5,284.0 596.0,283.7 596.5,285.1 597.0,286.9 597.5,285.8 598.0,286.3 598.5,286.2 599.0,286.4 599.5,285.2 600.0,285.2 600.5,286.0 601.0,286.2 601.5,286.1 602.0,285.9 602.5,285.3 603.0,286.5 603.5,286.0 604.0,286.5 604.5,283.6 605.0,286.4 605.5,283.7 606.0,285.8 606.5,285.1 607.0,285.7 607.5,285.2 608.0,285.3 608.5,285.7 609.0,285.8 609.5,284.9 610.0,283.5 610.5,284.9 611.0,285.9 611.5,284.7 612.0,285.7 612.5,285.0 613.0,284.5 613.5,286.1 614.0,286.4 614.5,285.0 615.0,285.0 615.5,285.7 616.0,283.9 616.5,284.2 617.0,285.7 617.5,285.5 618.0,284.4 618.5,284.1 619.0,284.9 619.5,283.5 620.0,284.2 620.5,284.3 621.0,282.5 621.5,284.9 622.0,285.0 622.5,285.1 623.0,283.1 623.5,283.2 624.0,283.5 624.5,283.1 625.0,285.7 625.5,283.2 626.0,283.7 626.5,284.1 627.0,284.4 627.5,285.4 628.0,283.6 628.5,285.4 629.0,285.0 629.5,284.1 630.0,285.4 630.5,284.3 631.0,286.8 631.5,284.9 632.0,286.2 632.5,286.4 633.0,284.8 633.5,284.6 634.0,285.4 634.5,284.4 635.0,285.9 635.5,285.3 636.0,284.5 636.5,284.6 637.0,285.6 637.5,283.9 638.0,286.3 638.5,284.3 639.0,284.8 639.5,284.2 640.0,286.1 640.5,285.5 641.0,285.8 641.5,285.3 642.0,284.8 642.5,286.0 643.0,285.2 643.5,285.0 644.0,285.0 644.5,285.1 645.0,284.7 645.5,284.3 646.0,283.2 646.5,286.0 647.0,283.3 647.5,282.6 648.0,283.7 648.5,285.8 649.0,285.2 649.5,283.7 650.0,284.4 650.5,284.1 651.0,282.5 651.5,283.8 652.0,284.2 652.5,284.8 653.0,282.9 653.5,281.9 654.0,282.4 654.5,283.9 655.0,283.6 655.5,283.6 656.0,283.6 656.5,282.9 657.0,281.7 657.5,283.7 658.0,283.5 658.5,283.7 659.0,281.9 659.5,276.6 660.0,275.3 660.5,275.9 661.0,280.2 661.5,276.8 662.0,278.2 662.5,277.7 663.0,278.5 663.5,281.2 664.0,277.0 664.5,277.4 665.0,276.8 665.5,277.7 666.0,278.0 666.5,276.3 667.0,278.8 667.5,278.6 668.0,277.8 668.5,277.1 669.0,276.9 669.5,275.3 670.0,277.8 670.5,276.0 671.0,276.5 671.5,278.1 672.0,276.0 672.5,276.4 673.0,277.9 673.5,279.0 674.0,276.2 674.5,278.2 675.0,276.2 675.5,277.4 676.0,277.5 676.5,275.6 677.0,278.1 677.5,278.9 678.0,276.9 678.5,277.2 679.0,275.6 679.5,278.9 680.0,276.9 680.5,275.4 681.0,277.7 681.5,275.2 682.0,276.1 682.5,274.4 683.0,278.3 683.5,279.3 684.0,276.0 684.5,276.0 685.0,276.0 685.5,275.9 686.0,277.1 686.5,278.1 687.0,275.3 687.5,276.8 688.0,274.3 688.5,277.9 689.0,276.1 689.5,275.3 690.0,277.8 690.5,275.9 691.0,277.5 691.5,277.1 692.0,277.7 692.5,274.9 693.0,275.8 693.5,276.1 694.0,275.4 694.5,277.2 695.0,274.7 695.5,276.5 696.0,276.9 696.5,273.2 697.0,274.4 697.5,274.5 698.0,274.9 698.5,275.9 699.0,275.3 699.5,275.6 700.0,275.1 700.5,275.5 701.0,276.2 701.5,276.5 702.0,274.8 702.5,275.5 703.0,274.8 703.5,275.5 704.0,274.1 704.5,276.8 705.0,276.5 705.5,275.7 706.0,275.0 706.5,275.1 707.0,274.7 707.5,273.6 708.0,277.0 708.5,278.7 709.0,273.5 709.5,273.4 710.0,275.3 710.5,275.1 711.0,272.6 711.5,272.0 712.0,274.6 712.5,271.7 713.0,275.3 713.5,273.1 714.0,273.6 714.5,273.3 715.0,272.6 715.5,272.9 716.0,272.6 716.5,274.3 717.0,272.7 717.5,272.8 718.0,272.2 718.5,272.0 719.0,271.9 719.5,272.7 720.0,274.7 720.5,273.9 721.0,272.9 721.5,274.4 722.0,273.7 722.5,272.7 723.0,272.3 723.5,271.2 724.0,272.7 724.5,272.0 725.0,270.6 725.5,270.9 726.0,274.5 726.5,272.5 727.0,272.8 727.5,272.4 728.0,271.7 728.5,272.7 729.0,273.3 729.5,271.8 730.0,272.6 730.5,273.2 731.0,271.5 731.5,272.2 732.0,271.1 732.5,272.6 733.0,271.5 733.5,273.1 734.0,271.0 734.5,273.7 735.0,271.4 735.5,270.8 736.0,270.7 736.5,272.4 737.0,270.7 737.5,273.7 738.0,273.1 738.5,272.2 739.0,270.0 739.5,271.5 740.0,270.7 740.5,269.5 741.0,271.9 741.5,273.9 742.0,270.8 742.5,272.3 743.0,272.8 743.5,270.3 744.0,270.9 744.5,271.6 745.0,272.0 745.5,270.3 746.0,271.9 746.5,271.7 747.0,273.0 747.5,270.3 748.0,271.5 748.5,271.7 749.0,272.1 749.5,273.4 750.0,272.0 750.5,275.9 751.0,272.1 751.5,274.0 752.0,274.3 752.5,274.4 753.0,273.0 753.5,272.3 754.0,272.8 754.5,273.8 755.0,273.1 755.5,273.6 756.0,273.5 756.5,271.8 757.0,271.7 757.5,274.3 758.0,272.1 758.5,270.8 759.0,274.6 759.5,271.5 760.0,271.3 760.5,273.4 761.0,271.0 761.5,271.2 762.0,273.3 762.5,271.2 763.0,274.8 763.5,272.1 764.0,274.9 764.5,272.0 765.0,271.8 765.5,271.0 766.0,271.4 766.5,271.0 767.0,271.5 767.5,272.3 768.0,270.0 768.5,270.3 769.0,268.9 769.5,272.9 770.0,271.1 770.5,271.1 771.0,271.1 771.5,272.2 772.0,271.4 772.5,271.9 773.0,270.8 773.5,270.8 774.0,270.8 774.5,268.7 775.0,272.0 775.5,269.0 776.0,269.6 776.5,271.4 777.0,270.7 777.5,271.5 778.0,272.5 778.5,272.6 779.0,272.0 779.5,270.2 780.0,272.7 780.5,269.4 781.0,270.2 781.5,271.5 782.0,270.1 782.5,270.3 783.0,270.1 783.5,272.0 784.0,267.8 784.5,272.0 785.0,271.8 785.5,270.6 786.0,271.3 786.5,269.7 787.0,272.0 787.5,274.3 788.0,269.8 788.5,272.5 789.0,270.9 789.5,270.6 790.0,270.5 790.5,270.9 791.0,269.7 791.5,269.6 792.0,273.1 792.5,271.2 793.0,271.9 793.5,271.6 794.0,274.8 794.5,272.6 795.0,273.2 795.5,275.0 796.0,275.4 796.5,272.9 797.0,273.6 797.5,273.0 798.0,274.9 798.5,274.5 799.0,274.2 799.5,273.4 800.0,274.5 800.5,274.1 801.0,273.3 801.5,274.4 802.0,273.3 802.5,275.1 803.0,274.7 803.5,273.2 804.0,274.7 804.5,274.1 805.0,273.2 805.5,272.9 806.0,272.1 806.5,272.7 807.0,274.3 807.5,275.2 808.0,273.2 808.5,274.0 809.0,274.2 809.5,274.7 810.0,274.3 810.5,275.2 811.0,274.6 811.5,272.9 812.0,274.2 812.5,271.1 813.0,273.5 813.5,273.7" fill="none" stroke="#2828d8" stroke-width="0.8" stroke-opacity="0.7" stroke-linejoin="round"/>
<g shape-rendering="crispEdges">
<rect x="30" y="104" width="1" height="200" fill="#731414"/>
<rect x="30" y="118" width="1" height="1" fill="#000"/>
<rect x="30" y="142" width="1" height="1" fill="#000"/>
<rect x="30" y="167" width="1" height="1" fill="#000"/>
<rect x="30" y="191" width="1" height="1" fill="#000"/>
<rect x="30" y="216" width="1" height="1" fill="#000"/>
<rect x="30" y="240" width="1" height="1" fill="#000"/>
<rect x="30" y="265" width="1" height="1" fill="#000"/>
<rect x="30" y="289" width="1" height="1" fill="#000"/>
<rect x="30" y="130" width="1" height="1" fill="#000"/>
<rect x="30" y="154" width="1" height="1" fill="#000"/>
<rect x="30" y="179" width="1" height="1" fill="#000"/>
<rect x="30" y="228" width="1" height="1" fill="#000"/>
<rect x="30" y="253" width="1" height="1" fill="#000"/>
<rect x="30" y="277" width="1" height="1" fill="#000"/>
<rect x="208" y="104" width="1" height="200" fill="#731414"/>
<rect x="208" y="118" width="1" height="1" fill="#000"/>
<rect x="208" y="142" width="1" height="1" fill="#000"/>
<rect x="208" y="167" width="1" height="1" fill="#000"/>
<rect x="208" y="191" width="1" height="1" fill="#000"/>
<rect x="208" y="216" width="1" height="1" fill="#000"/>
<rect x="208" y="240" width="1" height="1" fill="#000"/>
<rect x="208" y="265" width="1" height="1" fill="#000"/>
<rect x="208" y="289" width="1" height="1" fill="#000"/>
<rect x="208" y="130" width="1" height="1" fill="#000"/>
<rect x="208" y="154" width="1" height="1" fill="#000"/>
<rect x="208" y="179" width="1" height="1" fill="#000"/>
<rect x="208" y="228" width="1" height="1" fill="#000"/>
<rect x="208" y="253" width="1" height="1" fill="#000"/>
<rect x="208" y="277" width="1" height="1" fill="#000"/>
<rect x="387" y="104" width="1" height="200" fill="#731414"/>
<rect x="387" y="118" width="1" height="1" fill="#000"/>
<rect x="387" y="142" width="1" height="1" fill="#000"/>
<rect x="387" y="167" width="1" height="1" fill="#000"/>
<rect x="387" y="191" width="1" height="1" fill="#000"/>
<rect x="387" y="216" width="1" height="1" fill="#000"/>
<rect x="387" y="240" width="1" height="1" fill="#000"/>
<rect x="387" y="265" width="1" height="1" fill="#000"/>
<rect x="387" y="289" width="1" height="1" fill="#000"/>
<rect x="387" y="130" width="1" height="1" fill="#000"/>
<rect x="387" y="154" width="1" height="1" fill="#000"/>
<rect x="387" y="179" width="1" height="1" fill="#000"/>
<rect x="387" y="228" width="1" height="1" fill="#000"/>
<rect x="387" y="253" width="1" height="1" fill="#000"/>
<rect x="387" y="277" width="1" height="1" fill="#000"/>
<rect x="566" y="104" width="1" height="200" fill="#731414"/>
<rect x="566" y="118" width="1" height="1" fill="#000"/>
<rect x="566" y="142" width="1" height="1" fill="#000"/>
<rect x="566" y="167" width="1" height="1" fill="#000"/>
<rect x="566" y="191" width="1" height="1" fill="#000"/>
<rect x="566" y="216" width="1" height="1" fill="#000"/>
<rect x="566" y="240" width="1" height="1" fill="#000"/>
<rect x="566" y="265" width="1" height="1" fill="#000"/>
<rect x="566" y="289" width="1" height="1" fill="#000"/>
<rect x="566" y="130" width="1" height="1" fill="#000"/>
<rect x="566" y="154" width="1" height="1" fill="#000"/>
<rect x="566" y="179" width="1" height="1" fill="#000"/>
<rect x="566" y="228" width="1" height="1" fill="#000"/>
<rect x="566" y="253" width="1" height="1" fill="#000"/>
<rect x="566" y="277" width="1" height="1" fill="#000"/>
<rect x="745" y="104" width="1" height="200" fill="#731414"/>
<rect x="745" y="118" width="1" height="1" fill="#000"/>
<rect x="745" y="142" width="1" height="1" fill="#000"/>
<rect x="745" y="167" width="1" height="1" fill="#000"/>
<rect x="745" y="191" width="1" height="1" fill="#000"/>
<rect x="745" y="216" width="1" height="1" fill="#000"/>
<rect x="745" y="240" width="1" height="1" fill="#000"/>
<rect x="745" y="265" width="1" height="1" fill="#000"/>
<rect x="745" y="289" width="1" height="1" fill="#000"/>
<rect x="745" y="130" width="1" height="1" fill="#000"/>
<rect x="745" y="154" width="1" height="1" fill="#000"/>
<rect x="745" y="179" width="1" height="1" fill="#000"/>
<rect x="745" y="228" width="1" height="1" fill="#000"/>
<rect x="745" y="253" width="1" height="1" fill="#000"/>
<rect x="745" y="277" width="1" height="1" fill="#000"/>
<rect x="30" y="104" width="784" height="1" fill="#000"/>
<rect x="30" y="204" width="784" height="1" fill="#000"/>
<rect x="30" y="303" width="784" height="1" fill="#000"/>
</g>
<path d="M47 482V472h1V482zM48 482V463h1V482zM49 482V454h1V482zM50 482V446h1V482zM51 482V439h1V482zM52 482V432h1V482zM53 482V426h1V482zM54 482V421h1V482zM55 482V417h1V482zM56 482V413h1V482zM57 482V411h1V482zM58 482V409h1V482zM59 482V408h1V482zM60 482V409h1V482zM61 482V411h1V482zM62 482V414h1V482zM63 482V418h1V482zM64 482V423h1V482zM65 482V429h1V482zM66 482V435h1V482zM67 482V443h1V482zM68 482V450h1V482zM69 482V442h1V482zM70 482V434h1V482zM71 482V427h1V482zM72 482V421h1V482zM73 482V416h1V482zM74 482V412h1V482zM75 482V410h1V482zM76 482V409h1V482zM77 482V410h1V482zM78 482V413h1V482zM79 482V417h1V482zM80 482V421h1V482zM81 482V427h1V482zM82 482V434h1V482zM83 482V442h1V482zM84 482V451h1V482zM85 482V451h1V482zM86 482V442h1V482zM87 482V434h1V482zM88 482V427h1V482zM89 482V422h1V482zM90 482V417h1V482zM91 482V414h1V482zM92 482V413h1V482zM93 482V413h1V482zM94 482V415h1V482zM95 482V420h1V482zM96 482V425h1V482zM97 482V432h1V482zM98 482V440h1V482zM99 482V449h1V482zM100 482V459h1V482zM101 482V460h1V482zM102 482V451h1V482zM103 482V443h1V482zM104 482V436h1V482zM105 482V430h1V482zM106 482V425h1V482zM107 482V421h1V482zM108 482V418h1V482zM109 482V417h1V482zM110 482V417h1V482zM111 482V419h1V482zM112 482V422h1V482zM113 482V427h1V482zM114 482V432h1V482zM115 482V439h1V482zM116 482V446h1V482zM117 482V455h1V482zM118 482V464h1V482zM119 482V468h1V482zM120 482V458h1V482zM121 482V450h1V482zM122 482V442h1V482zM123 482V435h1V482zM124 482V429h1V482zM125 482V425h1V482zM126 482V422h1V482zM127 482V420h1V482zM128 482V421h1V482zM129 482V423h1V482zM130 482V426h1V482zM131 482V431h1V482zM132 482V437h1V482zM133 482V443h1V482zM134 482V451h1V482zM135 482V460h1V482zM136 482V470h1V482zM137 482V470h1V482zM138 482V461h1V482zM139 482V453h1V482zM140 482V446h1V482zM141 482V440h1V482zM142 482V435h1V482zM143 482V431h1V482zM144 482V428h1V482zM145 482V426h1V482zM146 482V425h1V482zM147 482V427h1V482zM148 482V429h1V482zM149 482V433h1V482zM150 482V438h1V482zM151 482V443h1V482zM152 482V450h1V482zM153 482V458h1V482zM154 482V466h1V482zM155 482V472h1V482zM156 482V463h1V482zM157 482V456h1V482zM158 482V449h1V482zM159 482V443h1V482zM160 482V439h1V482zM161 482V435h1V482zM162 482V432h1V482zM163 482V430h1V482zM164 482V430h1V482zM165 482V432h1V482zM166 482V436h1V482zM167 482V440h1V482zM168 482V446h1V482zM169 482V453h1V482zM170 482V461h1V482zM171 482V470h1V482zM172 482V480h1V482zM173 482V471h1V482zM174 482V463h1V482zM175 482V456h1V482zM176 482V450h1V482zM177 482V445h1V482zM178 482V441h1V482zM179 482V438h1V482zM180 482V435h1V482zM181 482V435h1V482zM182 482V435h1V482zM183 482V437h1V482zM184 482V440h1V482zM185 482V443h1V482zM186 482V446h1V482zM187 482V451h1V482zM188 482V456h1V482zM189 482V462h1V482zM190 482V468h1V482zM191 482V475h1V482zM193 482V466h1V482zM194 482V462h1V482zM195 482V459h1V482zM196 482V456h1V482zM197 482V453h1V482zM198 482V451h1V482zM199 482V450h1V482zM200 482V451h1V482zM201 482V453h1V482zM202 482V455h1V482zM203 482V457h1V482zM204 482V460h1V482zM205 482V463h1V482zM206 482V466h1V482zM207 482V469h1V482zM208 482V472h1V482zM209 482V476h1V482zM244 482V477h1V482zM246 482V470h1V482zM247 482V464h1V482zM248 482V458h1V482zM249 482V453h1V482zM250 482V449h1V482zM251 482V448h1V482zM252 482V451h1V482zM253 482V455h1V482zM254 482V460h1V482zM255 482V466h1V482zM256 482V472h1V482zM257 482V478h1V482zM259 482V474h1V482z" fill="#ff0000" shape-rendering="crispEdges"/>
<path d="M307 482V476h1V482zM308 482V472h1V482zM309 482V462h1V482zM310 482V453h1V482zM311 482V445h1V482zM312 482V438h1V482zM313 482V431h1V482zM314 482V425h1V482zM315 482V420h1V482zM316 482V416h1V482zM317 482V413h1V482zM318 482V410h1V482zM319 482V409h1V482zM320 482V408h1V482zM321 482V410h1V482zM322 482V413h1V482zM323 482V416h1V482zM324 482V421h1V482zM325 482V427h1V482zM326 482V433h1V482zM327 482V441h1V482zM328 482V449h1V482zM329 482V459h1V482zM330 482V449h1V482zM331 482V439h1V482zM332 482V430h1V482zM333 482V423h1V482zM334 482V417h1V482zM335 482V412h1V482zM336 482V410h1V482zM337 482V409h1V482zM338 482V411h1V482zM339 482V413h1V482zM340 482V417h1V482zM341 482V422h1V482zM342 482V428h1V482zM343 482V434h1V482zM344 482V442h1V482zM345 482V450h1V482zM346 482V453h1V482zM347 482V443h1V482zM348 482V435h1V482zM349 482V427h1V482zM350 482V421h1V482zM351 482V417h1V482zM352 482V414h1V482zM353 482V412h1V482zM354 482V413h1V482zM355 482V416h1V482zM356 482V420h1V482zM357 482V425h1V482zM358 482V431h1V482zM359 482V439h1V482zM360 482V447h1V482zM361 482V456h1V482zM362 482V467h1V482zM363 482V456h1V482zM364 482V447h1V482zM365 482V439h1V482zM366 482V432h1V482zM367 482V426h1V482zM368 482V421h1V482zM369 482V418h1V482zM370 482V416h1V482zM371 482V416h1V482zM372 482V418h1V482zM373 482V421h1V482zM374 482V424h1V482zM375 482V429h1V482zM376 482V434h1V482zM377 482V440h1V482zM378 482V447h1V482zM379 482V454h1V482zM380 482V463h1V482zM381 482V468h1V482zM382 482V457h1V482zM383 482V448h1V482zM384 482V440h1V482zM385 482V433h1V482zM386 482V427h1V482zM387 482V423h1V482zM388 482V421h1V482zM389 482V421h1V482zM390 482V422h1V482zM391 482V424h1V482zM392 482V427h1V482zM393 482V431h1V482zM394 482V435h1V482zM395 482V441h1V482zM396 482V447h1V482zM397 482V454h1V482zM398 482V461h1V482zM399 482V464h1V482zM400 482V455h1V482zM401 482V447h1V482zM402 482V441h1V482zM403 482V435h1V482zM404 482V431h1V482zM405 482V427h1V482zM406 482V425h1V482zM407 482V424h1V482zM408 482V426h1V482zM409 482V428h1V482zM410 482V432h1V482zM411 482V437h1V482zM412 482V443h1V482zM413 482V449h1V482zM414 482V457h1V482zM415 482V466h1V482zM416 482V475h1V482zM417 482V469h1V482zM418 482V461h1V482zM419 482V453h1V482zM420 482V446h1V482zM421 482V441h1V482zM422 482V436h1V482zM423 482V433h1V482zM424 482V431h1V482zM425 482V430h1V482zM426 482V432h1V482zM427 482V434h1V482zM428 482V438h1V482zM429 482V443h1V482zM430 482V449h1V482zM431 482V456h1V482zM432 482V464h1V482zM433 482V473h1V482zM434 482V470h1V482zM435 482V462h1V482zM436 482V455h1V482zM437 482V449h1V482zM438 482V443h1V482zM439 482V439h1V482zM440 482V436h1V482zM441 482V434h1V482zM442 482V433h1V482zM443 482V434h1V482zM444 482V436h1V482zM445 482V439h1V482zM446 482V442h1V482zM447 482V446h1V482zM448 482V451h1V482zM449 482V456h1V482zM450 482V462h1V482zM451 482V468h1V482zM452 482V476h1V482zM455 482V462h1V482zM456 482V459h1V482zM457 482V456h1V482zM458 482V453h1V482zM459 482V451h1V482zM460 482V449h1V482zM461 482V449h1V482zM462 482V453h1V482zM463 482V457h1V482zM464 482V462h1V482zM465 482V468h1V482zM466 482V475h1V482zM468 482V476h1V482zM469 482V476h1V482zM507 482V475h1V482zM508 482V468h1V482zM509 482V462h1V482zM510 482V457h1V482zM511 482V452h1V482zM512 482V448h1V482zM513 482V447h1V482zM514 482V450h1V482zM515 482V454h1V482zM516 482V459h1V482zM517 482V464h1V482zM518 482V470h1V482zM519 482V476h1V482zM530 482V476h1V482z" fill="#ff0000" shape-rendering="crispEdges"/>
<path d="M568 482V471h1V482zM569 482V462h1V482zM570 482V453h1V482zM571 482V446h1V482zM572 482V439h1V482zM573 482V432h1V482zM574 482V427h1V482zM575 482V422h1V482zM576 482V418h1V482zM577 482V414h1V482zM578 482V412h1V482zM579 482V410h1V482zM580 482V409h1V482zM581 482V410h1V482zM582 482V411h1V482zM583 482V412h1V482zM584 482V415h1V482zM585 482V417h1V482zM586 482V420h1V482zM587 482V424h1V482zM588 482V428h1V482zM589 482V433h1V482zM590 482V438h1V482zM591 482V438h1V482zM592 482V430h1V482zM593 482V424h1V482zM594 482V419h1V482zM595 482V415h1V482zM596 482V412h1V482zM597 482V410h1V482zM598 482V410h1V482zM599 482V411h1V482zM600 482V413h1V482zM601 482V416h1V482zM602 482V419h1V482zM603 482V423h1V482zM604 482V428h1V482zM605 482V433h1V482zM606 482V439h1V482zM607 482V445h1V482zM608 482V437h1V482zM609 482V429h1V482zM610 482V423h1V482zM611 482V419h1V482zM612 482V415h1V482zM613 482V413h1V482zM614 482V413h1V482zM615 482V414h1V482zM616 482V416h1V482zM617 482V419h1V482zM618 482V422h1V482zM619 482V426h1V482zM620 482V431h1V482zM621 482V436h1V482zM622 482V442h1V482zM623 482V449h1V482zM624 482V452h1V482zM625 482V444h1V482zM626 482V437h1V482zM627 482V431h1V482zM628 482V426h1V482zM629 482V422h1V482zM630 482V419h1V482zM631 482V418h1V482zM632 482V418h1V482zM633 482V419h1V482zM634 482V421h1V482zM635 482V423h1V482zM636 482V427h1V482zM637 482V430h1V482zM638 482V435h1V482zM639 482V440h1V482zM640 482V445h1V482zM641 482V451h1V482zM642 482V453h1V482zM643 482V445h1V482zM644 482V438h1V482zM645 482V433h1V482zM646 482V428h1V482zM647 482V424h1V482zM648 482V422h1V482zM649 482V421h1V482zM650 482V422h1V482zM651 482V423h1V482zM652 482V425h1V482zM653 482V428h1V482zM654 482V431h1V482zM655 482V435h1V482zM656 482V440h1V482zM657 482V445h1V482zM658 482V450h1V482zM659 482V456h1V482zM660 482V454h1V482zM661 482V447h1V482zM662 482V441h1V482zM663 482V436h1V482zM664 482V432h1V482zM665 482V428h1V482zM666 482V426h1V482zM667 482V425h1V482zM668 482V425h1V482zM669 482V426h1V482zM670 482V428h1V482zM671 482V430h1V482zM672 482V433h1V482zM673 482V436h1V482zM674 482V440h1V482zM675 482V445h1V482zM676 482V450h1V482zM677 482V455h1V482zM678 482V461h1V482zM679 482V456h1V482zM680 482V449h1V482zM681 482V443h1V482zM682 482V439h1V482zM683 482V435h1V482zM684 482V432h1V482zM685 482V430h1V482zM686 482V430h1V482zM687 482V431h1V482zM688 482V433h1V482zM689 482V436h1V482zM690 482V440h1V482zM691 482V444h1V482zM692 482V449h1V482zM693 482V454h1V482zM694 482V460h1V482zM695 482V465h1V482zM696 482V458h1V482zM697 482V452h1V482zM698 482V447h1V482zM699 482V442h1V482zM700 482V439h1V482zM701 482V436h1V482zM702 482V434h1V482zM703 482V433h1V482zM704 482V434h1V482zM705 482V436h1V482zM706 482V438h1V482zM707 482V442h1V482zM708 482V446h1V482zM709 482V450h1V482zM710 482V456h1V482zM711 482V461h1V482zM712 482V468h1V482zM713 482V473h1V482zM714 482V473h1V482zM715 482V473h1V482zM716 482V473h1V482zM717 482V463h1V482zM718 482V458h1V482zM719 482V454h1V482zM720 482V451h1V482zM721 482V448h1V482zM722 482V450h1V482zM723 482V452h1V482zM724 482V455h1V482zM725 482V458h1V482zM726 482V462h1V482zM727 482V465h1V482zM728 482V469h1V482zM729 482V473h1V482zM730 482V478h1V482zM732 482V474h1V482zM768 482V471h1V482zM769 482V465h1V482zM770 482V460h1V482zM771 482V455h1V482zM772 482V451h1V482zM773 482V447h1V482zM774 482V446h1V482zM775 482V448h1V482zM776 482V452h1V482zM777 482V455h1V482zM778 482V460h1V482zM779 482V464h1V482zM780 482V469h1V482z" fill="#ff0000" shape-rendering="crispEdges"/>
<g shape-rendering="crispEdges" style="mix-blend-mode:multiply">
<rect x="58" y="320" width="1" height="162" fill="#6a6a96"/>
<rect x="75" y="320" width="1" height="162" fill="#6a6a96"/>
<rect x="93" y="320" width="1" height="162" fill="#6a6a96"/>
<rect x="111" y="320" width="1" height="162" fill="#6a6a96"/>
<rect x="128" y="320" width="1" height="162" fill="#6a6a96"/>
<rect x="146" y="320" width="1" height="162" fill="#6a6a96"/>
<rect x="164" y="320" width="1" height="162" fill="#6a6a96"/>
<rect x="181" y="320" width="1" height="162" fill="#6a6a96"/>
<rect x="199" y="320" width="1" height="162" fill="#6a6a96"/>
<rect x="217" y="320" width="1" height="162" fill="#6a6a96"/>
<rect x="234" y="320" width="1" height="162" fill="#6a6a96"/>
<rect x="252" y="320" width="1" height="162" fill="#6a6a96"/>
<rect x="319" y="320" width="1" height="162" fill="#6a6a96"/>
<rect x="336" y="320" width="1" height="162" fill="#6a6a96"/>
<rect x="354" y="320" width="1" height="162" fill="#6a6a96"/>
<rect x="372" y="320" width="1" height="162" fill="#6a6a96"/>
<rect x="389" y="320" width="1" height="162" fill="#6a6a96"/>
<rect x="407" y="320" width="1" height="162" fill="#6a6a96"/>
<rect x="425" y="320" width="1" height="162" fill="#6a6a96"/>
<rect x="442" y="320" width="1" height="162" fill="#6a6a96"/>
<rect x="460" y="320" width="1" height="162" fill="#6a6a96"/>
<rect x="478" y="320" width="1" height="162" fill="#6a6a96"/>
<rect x="495" y="320" width="1" height="162" fill="#6a6a96"/>
<rect x="513" y="320" width="1" height="162" fill="#6a6a96"/>
<rect x="580" y="320" width="1" height="162" fill="#6a6a96"/>
<rect x="597" y="320" width="1" height="162" fill="#6a6a96"/>
<rect x="615" y="320" width="1" height="162" fill="#6a6a96"/>
<rect x="633" y="320" width="1" height="162" fill="#6a6a96"/>
<rect x="650" y="320" width="1" height="162" fill="#6a6a96"/>
<rect x="668" y="320" width="1" height="162" fill="#6a6a96"/>
<rect x="686" y="320" width="1" height="162" fill="#6a6a96"/>
<rect x="703" y="320" width="1" height="162" fill="#6a6a96"/>
<rect x="721" y="320" width="1" height="162" fill="#6a6a96"/>
<rect x="739" y="320" width="1" height="162" fill="#6a6a96"/>
<rect x="756" y="320" width="1" height="162" fill="#6a6a96"/>
<rect x="774" y="320" width="1" height="162" fill="#6a6a96"/>
</g>
<path d="M39 401V395h1V401zM44 401V398h1V401zM45 401V389h1V401zM46 401V381h1V401zM47 401V373h1V401zM48 401V366h1V401zM49 401V359h1V401zM50 401V353h1V401zM51 401V347h1V401zM52 401V342h1V401zM53 401V338h1V401zM54 401V334h1V401zM55 401V331h1V401zM56 401V329h1V401zM57 401V328h1V401zM58 401V327h1V401zM59 401V328h1V401zM60 401V331h1V401zM61 401V335h1V401zM62 401V340h1V401zM63 401V347h1V401zM64 401V355h1V401zM65 401V363h1V401zM66 401V373h1V401zM67 401V383h1V401zM68 401V371h1V401zM69 401V361h1V401zM70 401V352h1V401zM71 401V344h1V401zM72 401V337h1V401zM73 401V332h1V401zM74 401V329h1V401zM75 401V327h1V401zM76 401V328h1V401zM77 401V331h1V401zM78 401V335h1V401zM79 401V341h1V401zM80 401V348h1V401zM81 401V357h1V401zM82 401V367h1V401zM83 401V378h1V401zM84 401V391h1V401zM86 401V395h1V401zM87 401V379h1V401zM88 401V366h1V401zM89 401V354h1V401zM90 401V345h1V401zM91 401V337h1V401zM92 401V332h1V401zM93 401V330h1V401zM94 401V331h1V401zM95 401V334h1V401zM96 401V339h1V401zM97 401V346h1V401zM98 401V353h1V401zM99 401V363h1V401zM100 401V373h1V401zM101 401V385h1V401zM102 401V399h1V401zM103 401V391h1V401zM104 401V379h1V401zM105 401V368h1V401zM106 401V358h1V401zM107 401V350h1V401zM108 401V344h1V401zM109 401V339h1V401zM110 401V335h1V401zM111 401V334h1V401zM112 401V335h1V401zM113 401V339h1V401zM114 401V345h1V401zM115 401V352h1V401zM116 401V361h1V401zM117 401V371h1V401zM118 401V383h1V401zM119 401V396h1V401zM121 401V395h1V401zM122 401V381h1V401zM123 401V369h1V401zM124 401V359h1V401zM125 401V350h1V401zM126 401V344h1V401zM127 401V339h1V401zM128 401V337h1V401zM129 401V338h1V401zM130 401V340h1V401zM131 401V344h1V401zM132 401V349h1V401zM133 401V356h1V401zM134 401V363h1V401zM135 401V372h1V401zM136 401V381h1V401zM137 401V392h1V401zM139 401V391h1V401zM140 401V379h1V401zM141 401V369h1V401zM142 401V360h1V401zM143 401V353h1V401zM144 401V347h1V401zM145 401V343h1V401zM146 401V342h1V401zM147 401V342h1V401zM148 401V345h1V401zM149 401V350h1V401zM150 401V355h1V401zM151 401V362h1V401zM152 401V371h1V401zM153 401V380h1V401zM154 401V391h1V401zM157 401V392h1V401zM158 401V381h1V401zM159 401V372h1V401zM160 401V364h1V401zM161 401V357h1V401zM162 401V352h1V401zM163 401V349h1V401zM164 401V347h1V401zM165 401V349h1V401zM166 401V352h1V401zM167 401V356h1V401zM168 401V362h1V401zM169 401V369h1V401zM170 401V377h1V401zM171 401V387h1V401zM172 401V398h1V401zM174 401V391h1V401zM175 401V382h1V401zM176 401V374h1V401zM177 401V367h1V401zM178 401V361h1V401zM179 401V357h1V401zM180 401V354h1V401zM181 401V352h1V401zM182 401V353h1V401zM183 401V355h1V401zM184 401V359h1V401zM185 401V363h1V401zM186 401V369h1V401zM187 401V376h1V401zM188 401V384h1V401zM189 401V393h1V401zM192 401V392h1V401zM193 401V388h1V401zM194 401V383h1V401zM195 401V379h1V401zM196 401V375h1V401zM197 401V372h1V401zM198 401V369h1V401zM199 401V368h1V401zM200 401V369h1V401zM201 401V372h1V401zM202 401V375h1V401zM203 401V378h1V401zM204 401V382h1V401zM241 401V393h1V401zM242 401V390h1V401zM243 401V386h1V401zM244 401V383h1V401zM245 401V380h1V401zM246 401V377h1V401zM247 401V374h1V401zM248 401V371h1V401zM249 401V369h1V401zM250 401V367h1V401zM251 401V365h1V401zM252 401V365h1V401zM253 401V367h1V401zM254 401V371h1V401zM255 401V376h1V401zM256 401V381h1V401zM257 401V387h1V401z" fill="#0000ff" shape-rendering="crispEdges"/>
<path d="M297 401V395h1V401zM304 401V394h1V401zM305 401V385h1V401zM306 401V377h1V401zM307 401V369h1V401zM308 401V362h1V401zM309 401V356h1V401zM310 401V350h1V401zM311 401V345h1V401zM312 401V341h1V401zM313 401V337h1V401zM314 401V334h1V401zM315 401V331h1V401zM316 401V330h1V401zM317 401V328h1V401zM318 401V328h1V401zM319 401V328h1V401zM320 401V330h1V401zM321 401V332h1V401zM322 401V336h1V401zM323 401V341h1V401zM324 401V347h1V401zM325 401V354h1V401zM326 401V363h1V401zM327 401V372h1V401zM328 401V381h1V401zM329 401V369h1V401zM330 401V359h1V401zM331 401V350h1V401zM332 401V342h1V401zM333 401V336h1V401zM334 401V331h1V401zM335 401V328h1V401zM336 401V327h1V401zM337 401V329h1V401zM338 401V332h1V401zM339 401V338h1V401zM340 401V346h1V401zM341 401V355h1V401zM342 401V366h1V401zM343 401V378h1V401zM344 401V392h1V401zM347 401V392h1V401zM348 401V378h1V401zM349 401V365h1V401zM350 401V354h1V401zM351 401V345h1V401zM352 401V338h1V401zM353 401V333h1V401zM354 401V330h1V401zM355 401V330h1V401zM356 401V332h1V401zM357 401V336h1V401zM358 401V342h1V401zM359 401V349h1V401zM360 401V357h1V401zM361 401V367h1V401zM362 401V378h1V401zM363 401V391h1V401zM365 401V396h1V401zM366 401V382h1V401zM367 401V369h1V401zM368 401V359h1V401zM369 401V350h1V401zM370 401V343h1V401zM371 401V337h1V401zM372 401V334h1V401zM373 401V333h1V401zM374 401V335h1V401zM375 401V339h1V401zM376 401V345h1V401zM377 401V352h1V401zM378 401V360h1V401zM379 401V370h1V401zM380 401V381h1V401zM381 401V393h1V401zM383 401V392h1V401zM384 401V380h1V401zM385 401V369h1V401zM386 401V359h1V401zM387 401V351h1V401zM388 401V345h1V401zM389 401V340h1V401zM390 401V338h1V401zM391 401V338h1V401zM392 401V340h1V401zM393 401V343h1V401zM394 401V348h1V401zM395 401V353h1V401zM396 401V360h1V401zM397 401V368h1V401zM398 401V378h1V401zM399 401V388h1V401zM400 401V399h1V401zM402 401V388h1V401zM403 401V377h1V401zM404 401V366h1V401zM405 401V358h1V401zM406 401V351h1V401zM407 401V346h1V401zM408 401V342h1V401zM409 401V341h1V401zM410 401V343h1V401zM411 401V346h1V401zM412 401V351h1V401zM413 401V357h1V401zM414 401V365h1V401zM415 401V373h1V401zM416 401V383h1V401zM417 401V394h1V401zM421 401V378h1V401zM422 401V370h1V401zM423 401V364h1V401zM424 401V358h1V401zM425 401V353h1V401zM426 401V349h1V401zM427 401V347h1V401zM428 401V350h1V401zM429 401V355h1V401zM430 401V361h1V401zM431 401V369h1V401zM432 401V378h1V401zM433 401V387h1V401zM437 401V386h1V401zM438 401V379h1V401zM439 401V373h1V401zM440 401V368h1V401zM441 401V363h1V401zM442 401V358h1V401zM443 401V355h1V401zM444 401V353h1V401zM445 401V353h1V401zM446 401V358h1V401zM447 401V365h1V401zM448 401V373h1V401zM449 401V383h1V401zM450 401V394h1V401zM451 401V396h1V401zM452 401V396h1V401zM458 401V386h1V401zM459 401V380h1V401zM460 401V375h1V401zM461 401V371h1V401zM462 401V365h1V401zM463 401V371h1V401zM464 401V374h1V401zM465 401V378h1V401zM466 401V382h1V401zM467 401V387h1V401zM468 401V391h1V401zM469 401V397h1V401zM507 401V397h1V401zM508 401V390h1V401zM509 401V384h1V401zM510 401V378h1V401zM511 401V372h1V401zM512 401V368h1V401zM513 401V364h1V401zM514 401V361h1V401zM515 401V365h1V401zM516 401V370h1V401zM517 401V376h1V401zM518 401V382h1V401zM519 401V389h1V401z" fill="#0000ff" shape-rendering="crispEdges"/>
<path d="M558 401V392h1V401zM559 401V392h1V401zM560 401V392h1V401zM561 401V393h1V401zM562 401V385h1V401zM563 401V378h1V401zM564 401V371h1V401zM565 401V365h1V401zM566 401V359h1V401zM567 401V354h1V401zM568 401V349h1V401zM569 401V345h1V401zM570 401V341h1V401zM571 401V338h1V401zM572 401V335h1V401zM573 401V333h1V401zM574 401V331h1V401zM575 401V330h1V401zM576 401V329h1V401zM577 401V329h1V401zM578 401V329h1V401zM579 401V330h1V401zM580 401V332h1V401zM581 401V335h1V401zM582 401V339h1V401zM583 401V344h1V401zM584 401V349h1V401zM585 401V355h1V401zM586 401V363h1V401zM587 401V371h1V401zM588 401V380h1V401zM589 401V389h1V401zM590 401V380h1V401zM591 401V369h1V401zM592 401V360h1V401zM593 401V352h1V401zM594 401V344h1V401zM595 401V338h1V401zM596 401V333h1V401zM597 401V330h1V401zM598 401V328h1V401zM599 401V328h1V401zM600 401V331h1V401zM601 401V335h1V401zM602 401V341h1V401zM603 401V348h1V401zM604 401V357h1V401zM605 401V368h1V401zM606 401V380h1V401zM607 401V393h1V401zM609 401V394h1V401zM610 401V380h1V401zM611 401V367h1V401zM612 401V357h1V401zM613 401V347h1V401zM614 401V340h1V401zM615 401V335h1V401zM616 401V331h1V401zM617 401V331h1V401zM618 401V333h1V401zM619 401V337h1V401zM620 401V344h1V401zM621 401V352h1V401zM622 401V362h1V401zM623 401V374h1V401zM624 401V387h1V401zM626 401V392h1V401zM627 401V380h1V401zM628 401V370h1V401zM629 401V360h1V401zM630 401V352h1V401zM631 401V345h1V401zM632 401V340h1V401zM633 401V336h1V401zM634 401V334h1V401zM635 401V334h1V401zM636 401V336h1V401zM637 401V340h1V401zM638 401V344h1V401zM639 401V350h1V401zM640 401V358h1V401zM641 401V366h1V401zM642 401V375h1V401zM643 401V385h1V401zM644 401V397h1V401zM645 401V385h1V401zM646 401V374h1V401zM647 401V364h1V401zM648 401V356h1V401zM649 401V349h1V401zM650 401V344h1V401zM651 401V340h1V401zM652 401V338h1V401zM653 401V339h1V401zM654 401V342h1V401zM655 401V346h1V401zM656 401V352h1V401zM657 401V360h1V401zM658 401V369h1V401zM659 401V379h1V401zM660 401V391h1V401zM662 401V391h1V401zM663 401V381h1V401zM664 401V372h1V401zM665 401V363h1V401zM666 401V357h1V401zM667 401V351h1V401zM668 401V347h1V401zM669 401V344h1V401zM670 401V343h1V401zM671 401V344h1V401zM672 401V347h1V401zM673 401V351h1V401zM674 401V357h1V401zM675 401V364h1V401zM676 401V372h1V401zM677 401V381h1V401zM678 401V392h1V401zM681 401V392h1V401zM682 401V381h1V401zM683 401V372h1V401zM684 401V364h1V401zM685 401V358h1V401zM686 401V353h1V401zM687 401V350h1V401zM688 401V348h1V401zM689 401V350h1V401zM690 401V353h1V401zM691 401V359h1V401zM692 401V366h1V401zM693 401V375h1V401zM694 401V385h1V401zM695 401V395h1V401zM696 401V395h1V401zM697 401V395h1V401zM698 401V395h1V401zM699 401V383h1V401zM700 401V376h1V401zM701 401V370h1V401zM702 401V364h1V401zM703 401V360h1V401zM704 401V356h1V401zM705 401V354h1V401zM706 401V354h1V401zM707 401V358h1V401zM708 401V363h1V401zM709 401V369h1V401zM710 401V375h1V401zM711 401V383h1V401zM712 401V391h1V401zM717 401V390h1V401zM718 401V385h1V401zM719 401V381h1V401zM720 401V376h1V401zM721 401V373h1V401zM722 401V370h1V401zM723 401V368h1V401zM724 401V369h1V401zM725 401V373h1V401zM726 401V376h1V401zM727 401V380h1V401zM728 401V385h1V401zM766 401V395h1V401zM769 401V393h1V401zM770 401V387h1V401zM771 401V381h1V401zM772 401V376h1V401zM773 401V371h1V401zM774 401V367h1V401zM775 401V365h1V401zM776 401V366h1V401zM777 401V369h1V401zM778 401V372h1V401zM779 401V376h1V401zM780 401V381h1V401zM781 401V385h1V401zM782 401V390h1V401z" fill="#0000ff" shape-rendering="crispEdges"/>
<text x="30.5" y="15" fill="#000" text-anchor="start" textLength="78" lengthAdjust="spacingAndGlyphs">PxScan version</text>
<text x="120" y="15" fill="#000" text-anchor="start">:</text>
<text x="130.5" y="15" fill="#000" text-anchor="start" textLength="214" lengthAdjust="spacingAndGlyphs">PxScan v1.7.12, built Feb 24 2007 12:36:48</text>
<text x="30.5" y="30" fill="#000" text-anchor="start" textLength="80" lengthAdjust="spacingAndGlyphs">Manufacturer ID</text>
<text x="120" y="30" fill="#000" text-anchor="start">:</text>
<text x="130.5" y="30" fill="#000" text-anchor="start" textLength="64.5" lengthAdjust="spacingAndGlyphs">NAN YA F02</text>
<text x="30.5" y="45" fill="#000" text-anchor="start" textLength="56" lengthAdjust="spacingAndGlyphs">writer used</text>
<text x="120" y="45" fill="#000" text-anchor="start">:</text>
<text x="130.5" y="45" fill="#000" text-anchor="start" textLength="29" lengthAdjust="spacingAndGlyphs">&lt;n/a&gt;</text>
<text x="30.5" y="60" fill="#000" text-anchor="start" textLength="66.5" lengthAdjust="spacingAndGlyphs">disc capacity</text>
<text x="120" y="60" fill="#000" text-anchor="start">:</text>
<text x="130.5" y="60" fill="#000" text-anchor="start" textLength="6" lengthAdjust="spacingAndGlyphs">¶</text>
<text x="30.5" y="75" fill="#000" text-anchor="start" textLength="41" lengthAdjust="spacingAndGlyphs">scanned</text>
<text x="120" y="75" fill="#000" text-anchor="start">:</text>
<text x="130.5" y="75" fill="#000" text-anchor="start" textLength="248" lengthAdjust="spacingAndGlyphs">PLEXTOR DVDR PX-716A 1.11 TLA: #0307 @ 2x</text>
<text x="30.5" y="90" fill="#000" text-anchor="start" textLength="44.5" lengthAdjust="spacingAndGlyphs">comment</text>
<text x="120" y="90" fill="#000" text-anchor="start">:</text>
<text x="9.7" y="110" fill="#0000ff" textLength="17.5" lengthAdjust="spacingAndGlyphs">500</text>
<text x="9.6" y="134" fill="#ff0000" textLength="18.5" lengthAdjust="spacingAndGlyphs">15%</text>
<text x="9.6" y="158" fill="#ff0000" textLength="18.5" lengthAdjust="spacingAndGlyphs">10%</text>
<text x="15.7" y="183" fill="#ff0000" textLength="12.4" lengthAdjust="spacingAndGlyphs">5%</text>
<text x="9.7" y="208" fill="#0000ff" textLength="17.5" lengthAdjust="spacingAndGlyphs">700</text>
<text x="9.6" y="232" fill="#ff0000" textLength="18.5" lengthAdjust="spacingAndGlyphs">-5%</text>
<text x="3.9" y="257" fill="#ff0000" textLength="24.2" lengthAdjust="spacingAndGlyphs">-10%</text>
<text x="3.9" y="281" fill="#ff0000" textLength="24.2" lengthAdjust="spacingAndGlyphs">-15%</text>
<text x="9.7" y="306" fill="#0000ff" textLength="17.5" lengthAdjust="spacingAndGlyphs">900</text>
<text x="140" y="315" fill="#000" text-anchor="start" textLength="38.4" lengthAdjust="spacingAndGlyphs">128 MB</text>
<text x="398" y="315" fill="#000" text-anchor="start" textLength="44.3" lengthAdjust="spacingAndGlyphs">1664 MB</text>
<text x="658.5" y="315" fill="#000" text-anchor="start" textLength="44.8" lengthAdjust="spacingAndGlyphs">3712 MB</text>
<text x="30.5" y="498" fill="#ff0000" text-anchor="start" textLength="22.8" lengthAdjust="spacingAndGlyphs">Beta</text>
<text x="120.3" y="498" fill="#ff0000" text-anchor="start" textLength="70" lengthAdjust="spacingAndGlyphs">: -10.7% .. 1.6%</text>
<text x="30.5" y="513" fill="#000" text-anchor="start" textLength="78" lengthAdjust="spacingAndGlyphs">TA Test Zone 1</text>
<text x="120.3" y="513" fill="#000" text-anchor="start" textLength="380" lengthAdjust="spacingAndGlyphs">avg: 13.6 - 3T-11T/14T: 15.5, 12.5, 12.3, 12.7, 12.9, 13.0, 13.0, 13.5, 14.7, 13.9</text>
<text x="30.5" y="528" fill="#000" text-anchor="start" textLength="78" lengthAdjust="spacingAndGlyphs">TA Test Zone 2</text>
<text x="120.3" y="528" fill="#000" text-anchor="start" textLength="380" lengthAdjust="spacingAndGlyphs">avg: 13.6 - 3T-11T/14T: 15.8, 12.3, 11.9, 12.6, 12.6, 12.5, 12.1, 12.9, 13.0, 11.7</text>
<text x="30.5" y="543" fill="#000" text-anchor="start" textLength="78" lengthAdjust="spacingAndGlyphs">TA Test Zone 3</text>
<text x="120.3" y="543" fill="#000" text-anchor="start" textLength="380" lengthAdjust="spacingAndGlyphs">avg: 15.6 - 3T-11T/14T: 18.8, 13.7, 13.2, 14.0, 14.0, 14.1, 13.8, 13.9, 14.2, 12.3</text>
</svg></body></html>
